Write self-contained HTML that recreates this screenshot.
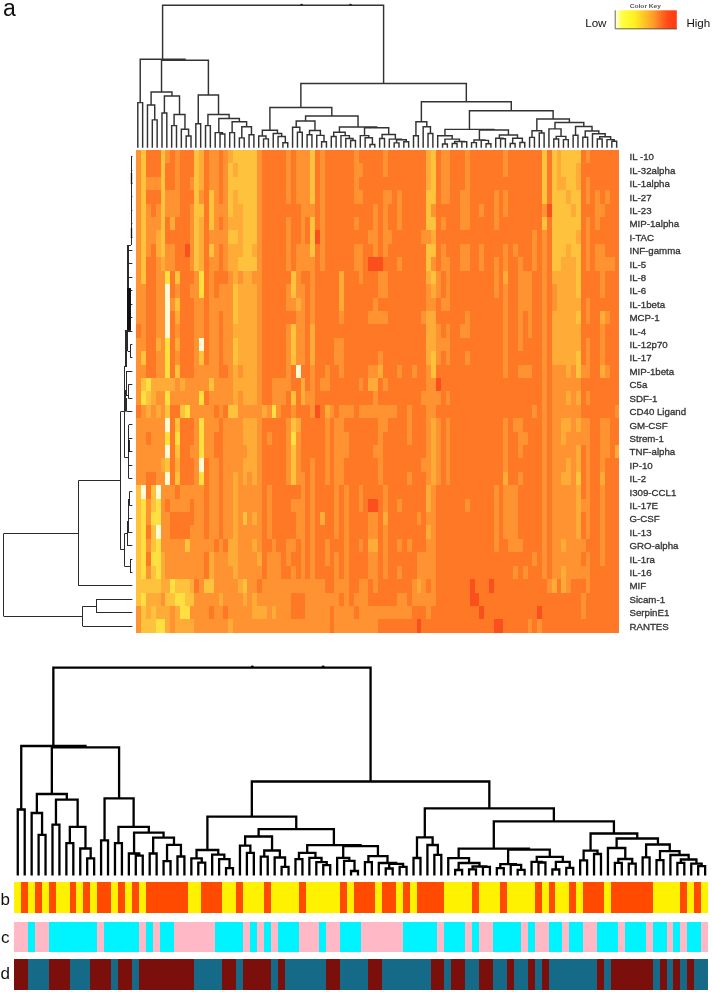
<!DOCTYPE html><html><head><meta charset="utf-8"><title>Heatmap</title><style>
html,body{margin:0;padding:0;background:#fff;}body{width:712px;height:992px;overflow:hidden;}
svg{display:block;}text{font-family:"Liberation Sans",Arial,sans-serif;}
</style></head><body>
<svg width="712" height="992" viewBox="0 0 712 992">
<defs><linearGradient id="ck" x1="0" x2="1" y1="0" y2="0"><stop offset="0" stop-color="#fffff2"/><stop offset="0.05" stop-color="#ffffb0"/><stop offset="0.12" stop-color="#ffff40"/><stop offset="0.32" stop-color="#fff020"/><stop offset="0.46" stop-color="#ffc828"/><stop offset="0.63" stop-color="#ff9a28"/><stop offset="0.76" stop-color="#ff6820"/><stop offset="0.86" stop-color="#ff4818"/><stop offset="1" stop-color="#ff3a12"/></linearGradient></defs>
<rect width="712" height="992" fill="#fff"/>
<text x="3.0" y="15.6" font-size="23" fill="#111">a</text>
<text x="629.7" y="8.3" font-size="5.2" font-weight="bold" fill="#555" textLength="31.3" lengthAdjust="spacingAndGlyphs">Color Key</text>
<rect x="614.8" y="10.3" width="62" height="18.9" fill="url(#ck)"/>
<path d="M615.2 10.3V28.8H676.8" stroke="#555" stroke-width="0.9" fill="none"/>
<text x="585.2" y="27" font-size="11.6" fill="#111">Low</text>
<text x="686.4" y="27" font-size="11.6" fill="#111">High</text>
<g shape-rendering="crispEdges">
<rect x="136.4" y="150" width="5.13" height="174.63" fill="#ff9332"/>
<rect x="136.4" y="324.33" width="5.13" height="13.71" fill="#ff7825"/>
<rect x="136.4" y="337.74" width="5.13" height="67.35" fill="#ff9332"/>
<rect x="136.4" y="404.79" width="5.13" height="13.71" fill="#ff7825"/>
<rect x="136.4" y="418.2" width="5.13" height="67.35" fill="#ff9332"/>
<rect x="136.4" y="485.25" width="5.13" height="120.99" fill="#ffc23c"/>
<rect x="136.4" y="605.94" width="5.13" height="26.82" fill="#ff9332"/>
<rect x="141.23" y="150" width="5.13" height="134.4" fill="#ffc23c"/>
<rect x="141.23" y="284.1" width="5.13" height="67.35" fill="#ff9332"/>
<rect x="141.23" y="351.15" width="5.13" height="13.71" fill="#ffc23c"/>
<rect x="141.23" y="364.56" width="5.13" height="13.71" fill="#ff9332"/>
<rect x="141.23" y="377.97" width="5.13" height="13.71" fill="#ffc23c"/>
<rect x="141.23" y="391.38" width="5.13" height="13.71" fill="#ffe040"/>
<rect x="141.23" y="404.79" width="5.13" height="80.76" fill="#ff9332"/>
<rect x="141.23" y="485.25" width="5.13" height="13.71" fill="#fffbd6"/>
<rect x="141.23" y="498.66" width="5.13" height="80.76" fill="#ffe040"/>
<rect x="141.23" y="579.12" width="5.13" height="13.71" fill="#ffc23c"/>
<rect x="141.23" y="592.53" width="5.13" height="13.71" fill="#ffe040"/>
<rect x="141.23" y="605.94" width="5.13" height="26.82" fill="#ffc23c"/>
<rect x="146.06" y="150" width="5.13" height="27.12" fill="#ff7825"/>
<rect x="146.06" y="176.82" width="5.13" height="13.71" fill="#ff9332"/>
<rect x="146.06" y="190.23" width="5.13" height="13.71" fill="#ff7825"/>
<rect x="146.06" y="203.64" width="5.13" height="53.94" fill="#ff9332"/>
<rect x="146.06" y="257.28" width="5.13" height="120.99" fill="#ff7825"/>
<rect x="146.06" y="377.97" width="5.13" height="13.71" fill="#ffe040"/>
<rect x="146.06" y="391.38" width="5.13" height="13.71" fill="#ffc23c"/>
<rect x="146.06" y="404.79" width="5.13" height="13.71" fill="#ffab37"/>
<rect x="146.06" y="418.2" width="5.13" height="13.71" fill="#ff9332"/>
<rect x="146.06" y="431.61" width="5.13" height="13.71" fill="#ff7825"/>
<rect x="146.06" y="445.02" width="5.13" height="27.12" fill="#ff9332"/>
<rect x="146.06" y="471.84" width="5.13" height="27.12" fill="#ff7825"/>
<rect x="146.06" y="498.66" width="5.13" height="27.12" fill="#ff9332"/>
<rect x="146.06" y="525.48" width="5.13" height="13.71" fill="#ff7825"/>
<rect x="146.06" y="538.89" width="5.13" height="13.71" fill="#ff9332"/>
<rect x="146.06" y="552.3" width="5.13" height="13.71" fill="#ff7825"/>
<rect x="146.06" y="565.71" width="5.13" height="13.71" fill="#ff9332"/>
<rect x="146.06" y="579.12" width="5.13" height="13.71" fill="#ffc23c"/>
<rect x="146.06" y="592.53" width="5.13" height="27.12" fill="#ffab37"/>
<rect x="146.06" y="619.35" width="5.13" height="13.41" fill="#ffc23c"/>
<rect x="150.89" y="150" width="5.13" height="27.12" fill="#ff7825"/>
<rect x="150.89" y="176.82" width="5.13" height="13.71" fill="#ff9332"/>
<rect x="150.89" y="190.23" width="5.13" height="27.12" fill="#ff7825"/>
<rect x="150.89" y="217.05" width="5.13" height="27.12" fill="#ff9332"/>
<rect x="150.89" y="243.87" width="5.13" height="134.4" fill="#ff7825"/>
<rect x="150.89" y="377.97" width="5.13" height="27.12" fill="#ffab37"/>
<rect x="150.89" y="404.79" width="5.13" height="67.35" fill="#ff9332"/>
<rect x="150.89" y="471.84" width="5.13" height="13.71" fill="#ff7825"/>
<rect x="150.89" y="485.25" width="5.13" height="27.12" fill="#ffc23c"/>
<rect x="150.89" y="512.07" width="5.13" height="13.71" fill="#ffe040"/>
<rect x="150.89" y="525.48" width="5.13" height="27.12" fill="#ffc23c"/>
<rect x="150.89" y="552.3" width="5.13" height="13.71" fill="#ffe040"/>
<rect x="150.89" y="565.71" width="5.13" height="27.12" fill="#ffc23c"/>
<rect x="150.89" y="592.53" width="5.13" height="13.71" fill="#ffab37"/>
<rect x="150.89" y="605.94" width="5.13" height="26.82" fill="#ffc23c"/>
<rect x="155.72" y="150" width="5.13" height="27.12" fill="#ff7825"/>
<rect x="155.72" y="176.82" width="5.13" height="13.71" fill="#ff9332"/>
<rect x="155.72" y="190.23" width="5.13" height="13.71" fill="#ff7825"/>
<rect x="155.72" y="203.64" width="5.13" height="27.12" fill="#ff9332"/>
<rect x="155.72" y="230.46" width="5.13" height="27.12" fill="#ffab37"/>
<rect x="155.72" y="257.28" width="5.13" height="80.76" fill="#ff9332"/>
<rect x="155.72" y="337.74" width="5.13" height="13.71" fill="#ffab37"/>
<rect x="155.72" y="351.15" width="5.13" height="27.12" fill="#ff9332"/>
<rect x="155.72" y="377.97" width="5.13" height="13.71" fill="#ffab37"/>
<rect x="155.72" y="391.38" width="5.13" height="13.71" fill="#ff9332"/>
<rect x="155.72" y="404.79" width="5.13" height="13.71" fill="#ffab37"/>
<rect x="155.72" y="418.2" width="5.13" height="67.35" fill="#ff9332"/>
<rect x="155.72" y="485.25" width="5.13" height="13.71" fill="#fffbd6"/>
<rect x="155.72" y="498.66" width="5.13" height="27.12" fill="#ffe040"/>
<rect x="155.72" y="525.48" width="5.13" height="13.71" fill="#fffbd6"/>
<rect x="155.72" y="538.89" width="5.13" height="40.53" fill="#ffe040"/>
<rect x="155.72" y="579.12" width="5.13" height="13.71" fill="#ffc23c"/>
<rect x="155.72" y="592.53" width="5.13" height="27.12" fill="#ffab37"/>
<rect x="155.72" y="619.35" width="5.13" height="13.41" fill="#ffe040"/>
<rect x="160.55" y="150" width="5.13" height="107.58" fill="#ffc23c"/>
<rect x="160.55" y="257.28" width="5.13" height="13.71" fill="#ffab37"/>
<rect x="160.55" y="270.69" width="5.13" height="107.58" fill="#ff9332"/>
<rect x="160.55" y="377.97" width="5.13" height="13.71" fill="#ffab37"/>
<rect x="160.55" y="391.38" width="5.13" height="67.35" fill="#ff9332"/>
<rect x="160.55" y="458.43" width="5.13" height="13.71" fill="#ffab37"/>
<rect x="160.55" y="471.84" width="5.13" height="80.76" fill="#ff9332"/>
<rect x="160.55" y="552.3" width="5.13" height="40.53" fill="#ffab37"/>
<rect x="160.55" y="592.53" width="5.13" height="13.71" fill="#ff9332"/>
<rect x="160.55" y="605.94" width="5.13" height="13.71" fill="#ffab37"/>
<rect x="160.55" y="619.35" width="5.13" height="13.41" fill="#ffe040"/>
<rect x="165.38" y="150" width="5.13" height="13.71" fill="#ff9332"/>
<rect x="165.38" y="163.41" width="5.13" height="27.12" fill="#ff7825"/>
<rect x="165.38" y="190.23" width="5.13" height="27.12" fill="#ff9332"/>
<rect x="165.38" y="217.05" width="5.13" height="27.12" fill="#ff7825"/>
<rect x="165.38" y="243.87" width="5.13" height="27.12" fill="#ff9332"/>
<rect x="165.38" y="270.69" width="5.13" height="13.71" fill="#ffe040"/>
<rect x="165.38" y="284.1" width="5.13" height="53.94" fill="#fffbd6"/>
<rect x="165.38" y="337.74" width="5.13" height="40.53" fill="#ffe040"/>
<rect x="165.38" y="377.97" width="5.13" height="13.71" fill="#ffab37"/>
<rect x="165.38" y="391.38" width="5.13" height="13.71" fill="#ffe040"/>
<rect x="165.38" y="404.79" width="5.13" height="13.71" fill="#ffc23c"/>
<rect x="165.38" y="418.2" width="5.13" height="13.71" fill="#fffbd6"/>
<rect x="165.38" y="431.61" width="5.13" height="13.71" fill="#ffe040"/>
<rect x="165.38" y="445.02" width="5.13" height="13.71" fill="#fffbd6"/>
<rect x="165.38" y="458.43" width="5.13" height="13.71" fill="#ffc23c"/>
<rect x="165.38" y="471.84" width="5.13" height="13.71" fill="#fffbd6"/>
<rect x="165.38" y="485.25" width="5.13" height="13.71" fill="#ff9332"/>
<rect x="165.38" y="498.66" width="5.13" height="13.71" fill="#ff7825"/>
<rect x="165.38" y="512.07" width="5.13" height="67.35" fill="#ff9332"/>
<rect x="165.38" y="579.12" width="5.13" height="13.71" fill="#ffab37"/>
<rect x="165.38" y="592.53" width="5.13" height="13.71" fill="#ffc23c"/>
<rect x="165.38" y="605.94" width="5.13" height="26.82" fill="#ffab37"/>
<rect x="170.21" y="150" width="5.13" height="40.53" fill="#ff7825"/>
<rect x="170.21" y="190.23" width="5.13" height="27.12" fill="#ff9332"/>
<rect x="170.21" y="217.05" width="5.13" height="13.71" fill="#ffab37"/>
<rect x="170.21" y="230.46" width="5.13" height="13.71" fill="#ff7825"/>
<rect x="170.21" y="243.87" width="5.13" height="27.12" fill="#ff9332"/>
<rect x="170.21" y="270.69" width="5.13" height="27.12" fill="#ff7825"/>
<rect x="170.21" y="297.51" width="5.13" height="13.71" fill="#ff9332"/>
<rect x="170.21" y="310.92" width="5.13" height="67.35" fill="#ff7825"/>
<rect x="170.21" y="377.97" width="5.13" height="13.71" fill="#ffab37"/>
<rect x="170.21" y="391.38" width="5.13" height="13.71" fill="#ff9332"/>
<rect x="170.21" y="404.79" width="5.13" height="80.76" fill="#ff7825"/>
<rect x="170.21" y="485.25" width="5.13" height="27.12" fill="#ff9332"/>
<rect x="170.21" y="512.07" width="5.13" height="27.12" fill="#ff7825"/>
<rect x="170.21" y="538.89" width="5.13" height="40.53" fill="#ff9332"/>
<rect x="170.21" y="579.12" width="5.13" height="13.71" fill="#ffe040"/>
<rect x="170.21" y="592.53" width="5.13" height="13.71" fill="#ffc23c"/>
<rect x="170.21" y="605.94" width="5.13" height="26.82" fill="#ff9332"/>
<rect x="175.04" y="150" width="5.13" height="67.35" fill="#ff9332"/>
<rect x="175.04" y="217.05" width="5.13" height="53.94" fill="#ff7825"/>
<rect x="175.04" y="270.69" width="5.13" height="13.71" fill="#ffc23c"/>
<rect x="175.04" y="284.1" width="5.13" height="13.71" fill="#ff9332"/>
<rect x="175.04" y="297.51" width="5.13" height="13.71" fill="#ffc23c"/>
<rect x="175.04" y="310.92" width="5.13" height="13.71" fill="#ffab37"/>
<rect x="175.04" y="324.33" width="5.13" height="13.71" fill="#ff9332"/>
<rect x="175.04" y="337.74" width="5.13" height="13.71" fill="#ffab37"/>
<rect x="175.04" y="351.15" width="5.13" height="13.71" fill="#ff9332"/>
<rect x="175.04" y="364.56" width="5.13" height="13.71" fill="#ffc23c"/>
<rect x="175.04" y="377.97" width="5.13" height="27.12" fill="#ff9332"/>
<rect x="175.04" y="404.79" width="5.13" height="13.71" fill="#ff7825"/>
<rect x="175.04" y="418.2" width="5.13" height="13.71" fill="#ffc23c"/>
<rect x="175.04" y="431.61" width="5.13" height="13.71" fill="#ffe040"/>
<rect x="175.04" y="445.02" width="5.13" height="13.71" fill="#ffc23c"/>
<rect x="175.04" y="458.43" width="5.13" height="13.71" fill="#ffab37"/>
<rect x="175.04" y="471.84" width="5.13" height="13.71" fill="#ffc23c"/>
<rect x="175.04" y="485.25" width="5.13" height="13.71" fill="#ff7825"/>
<rect x="175.04" y="498.66" width="5.13" height="13.71" fill="#ff9332"/>
<rect x="175.04" y="512.07" width="5.13" height="27.12" fill="#ff7825"/>
<rect x="175.04" y="538.89" width="5.13" height="40.53" fill="#ff9332"/>
<rect x="175.04" y="579.12" width="5.13" height="13.71" fill="#ffc23c"/>
<rect x="175.04" y="592.53" width="5.13" height="13.71" fill="#ffe040"/>
<rect x="175.04" y="605.94" width="5.13" height="26.82" fill="#ffab37"/>
<rect x="179.87" y="150" width="5.13" height="228.27" fill="#ff7825"/>
<rect x="179.87" y="377.97" width="5.13" height="13.71" fill="#ffab37"/>
<rect x="179.87" y="391.38" width="5.13" height="13.71" fill="#ff9332"/>
<rect x="179.87" y="404.79" width="5.13" height="13.71" fill="#ffc23c"/>
<rect x="179.87" y="418.2" width="5.13" height="67.35" fill="#ff7825"/>
<rect x="179.87" y="485.25" width="5.13" height="27.12" fill="#ff9332"/>
<rect x="179.87" y="512.07" width="5.13" height="27.12" fill="#ff7825"/>
<rect x="179.87" y="538.89" width="5.13" height="40.53" fill="#ff9332"/>
<rect x="179.87" y="579.12" width="5.13" height="13.71" fill="#ffc23c"/>
<rect x="179.87" y="592.53" width="5.13" height="27.12" fill="#ffe040"/>
<rect x="179.87" y="619.35" width="5.13" height="13.41" fill="#ffab37"/>
<rect x="184.7" y="150" width="5.13" height="94.17" fill="#ff7825"/>
<rect x="184.7" y="243.87" width="5.13" height="13.71" fill="#fb4f1e"/>
<rect x="184.7" y="257.28" width="5.13" height="120.99" fill="#ff7825"/>
<rect x="184.7" y="377.97" width="5.13" height="27.12" fill="#ff9332"/>
<rect x="184.7" y="404.79" width="5.13" height="13.71" fill="#ffe040"/>
<rect x="184.7" y="418.2" width="5.13" height="67.35" fill="#ff7825"/>
<rect x="184.7" y="485.25" width="5.13" height="27.12" fill="#ff9332"/>
<rect x="184.7" y="512.07" width="5.13" height="27.12" fill="#ff7825"/>
<rect x="184.7" y="538.89" width="5.13" height="13.71" fill="#ffc23c"/>
<rect x="184.7" y="552.3" width="5.13" height="27.12" fill="#ff9332"/>
<rect x="184.7" y="579.12" width="5.13" height="27.12" fill="#ffc23c"/>
<rect x="184.7" y="605.94" width="5.13" height="13.71" fill="#ffe040"/>
<rect x="184.7" y="619.35" width="5.13" height="13.41" fill="#ffab37"/>
<rect x="189.53" y="150" width="5.13" height="27.12" fill="#ff7825"/>
<rect x="189.53" y="176.82" width="5.13" height="13.71" fill="#ff9332"/>
<rect x="189.53" y="190.23" width="5.13" height="13.71" fill="#ff7825"/>
<rect x="189.53" y="203.64" width="5.13" height="67.35" fill="#ff9332"/>
<rect x="189.53" y="270.69" width="5.13" height="13.71" fill="#ff7825"/>
<rect x="189.53" y="284.1" width="5.13" height="13.71" fill="#ff9332"/>
<rect x="189.53" y="297.51" width="5.13" height="80.76" fill="#ff7825"/>
<rect x="189.53" y="377.97" width="5.13" height="40.53" fill="#ff9332"/>
<rect x="189.53" y="418.2" width="5.13" height="27.12" fill="#ff7825"/>
<rect x="189.53" y="445.02" width="5.13" height="13.71" fill="#ff9332"/>
<rect x="189.53" y="458.43" width="5.13" height="27.12" fill="#ff7825"/>
<rect x="189.53" y="485.25" width="5.13" height="13.71" fill="#ff9332"/>
<rect x="189.53" y="498.66" width="5.13" height="27.12" fill="#ff7825"/>
<rect x="189.53" y="525.48" width="5.13" height="53.94" fill="#ff9332"/>
<rect x="189.53" y="579.12" width="5.13" height="13.71" fill="#ffab37"/>
<rect x="189.53" y="592.53" width="5.13" height="13.71" fill="#ffc23c"/>
<rect x="189.53" y="605.94" width="5.13" height="13.71" fill="#ff9332"/>
<rect x="189.53" y="619.35" width="5.13" height="13.41" fill="#ffab37"/>
<rect x="194.36" y="150" width="5.13" height="120.99" fill="#ffc23c"/>
<rect x="194.36" y="270.69" width="5.13" height="308.73" fill="#ff9332"/>
<rect x="194.36" y="579.12" width="5.13" height="13.71" fill="#ff7825"/>
<rect x="194.36" y="592.53" width="5.13" height="40.23" fill="#ff9332"/>
<rect x="199.19" y="150" width="5.13" height="40.53" fill="#ffab37"/>
<rect x="199.19" y="190.23" width="5.13" height="13.71" fill="#ff9332"/>
<rect x="199.19" y="203.64" width="5.13" height="13.71" fill="#ffc23c"/>
<rect x="199.19" y="217.05" width="5.13" height="53.94" fill="#ffab37"/>
<rect x="199.19" y="270.69" width="5.13" height="27.12" fill="#ffe040"/>
<rect x="199.19" y="297.51" width="5.13" height="40.53" fill="#ff9332"/>
<rect x="199.19" y="337.74" width="5.13" height="13.71" fill="#fffbd6"/>
<rect x="199.19" y="351.15" width="5.13" height="13.71" fill="#ffc23c"/>
<rect x="199.19" y="364.56" width="5.13" height="27.12" fill="#ff9332"/>
<rect x="199.19" y="391.38" width="5.13" height="13.71" fill="#ffe040"/>
<rect x="199.19" y="404.79" width="5.13" height="13.71" fill="#ff9332"/>
<rect x="199.19" y="418.2" width="5.13" height="40.53" fill="#ffe040"/>
<rect x="199.19" y="458.43" width="5.13" height="13.71" fill="#fffbd6"/>
<rect x="199.19" y="471.84" width="5.13" height="13.71" fill="#ffe040"/>
<rect x="199.19" y="485.25" width="5.13" height="147.51" fill="#ff9332"/>
<rect x="204.02" y="150" width="5.13" height="214.86" fill="#ff7825"/>
<rect x="204.02" y="364.56" width="5.13" height="27.12" fill="#ff9332"/>
<rect x="204.02" y="391.38" width="5.13" height="13.71" fill="#ff7825"/>
<rect x="204.02" y="404.79" width="5.13" height="53.94" fill="#ff9332"/>
<rect x="204.02" y="458.43" width="5.13" height="80.76" fill="#ff7825"/>
<rect x="204.02" y="538.89" width="5.13" height="13.71" fill="#ff9332"/>
<rect x="204.02" y="552.3" width="5.13" height="27.12" fill="#ff7825"/>
<rect x="204.02" y="579.12" width="5.13" height="13.71" fill="#ffc23c"/>
<rect x="204.02" y="592.53" width="5.13" height="40.23" fill="#ff9332"/>
<rect x="208.85" y="150" width="5.13" height="40.53" fill="#ff9332"/>
<rect x="208.85" y="190.23" width="5.13" height="40.53" fill="#ffc23c"/>
<rect x="208.85" y="230.46" width="5.13" height="13.71" fill="#ff9332"/>
<rect x="208.85" y="243.87" width="5.13" height="13.71" fill="#ffc23c"/>
<rect x="208.85" y="257.28" width="5.13" height="120.99" fill="#ff9332"/>
<rect x="208.85" y="377.97" width="5.13" height="13.71" fill="#ffc23c"/>
<rect x="208.85" y="391.38" width="5.13" height="161.22" fill="#ff9332"/>
<rect x="208.85" y="552.3" width="5.13" height="27.12" fill="#ffab37"/>
<rect x="208.85" y="579.12" width="5.13" height="13.71" fill="#ffc23c"/>
<rect x="208.85" y="592.53" width="5.13" height="13.71" fill="#ff9332"/>
<rect x="208.85" y="605.94" width="5.13" height="13.71" fill="#ff7825"/>
<rect x="208.85" y="619.35" width="5.13" height="13.41" fill="#ff9332"/>
<rect x="213.68" y="150" width="5.13" height="120.99" fill="#ff9332"/>
<rect x="213.68" y="270.69" width="5.13" height="27.12" fill="#ff7825"/>
<rect x="213.68" y="297.51" width="5.13" height="107.58" fill="#ff9332"/>
<rect x="213.68" y="404.79" width="5.13" height="13.71" fill="#ff7825"/>
<rect x="213.68" y="418.2" width="5.13" height="13.71" fill="#ff9332"/>
<rect x="213.68" y="431.61" width="5.13" height="27.12" fill="#ff7825"/>
<rect x="213.68" y="458.43" width="5.13" height="80.76" fill="#ff9332"/>
<rect x="213.68" y="538.89" width="5.13" height="13.71" fill="#ff7825"/>
<rect x="213.68" y="552.3" width="5.13" height="80.46" fill="#ff9332"/>
<rect x="218.51" y="150" width="5.13" height="53.94" fill="#ff7825"/>
<rect x="218.51" y="203.64" width="5.13" height="13.71" fill="#ff9332"/>
<rect x="218.51" y="217.05" width="5.13" height="13.71" fill="#ff7825"/>
<rect x="218.51" y="230.46" width="5.13" height="13.71" fill="#ff9332"/>
<rect x="218.51" y="243.87" width="5.13" height="40.53" fill="#ff7825"/>
<rect x="218.51" y="284.1" width="5.13" height="27.12" fill="#ff9332"/>
<rect x="218.51" y="310.92" width="5.13" height="67.35" fill="#ff7825"/>
<rect x="218.51" y="377.97" width="5.13" height="40.53" fill="#ff9332"/>
<rect x="218.51" y="418.2" width="5.13" height="120.99" fill="#ff7825"/>
<rect x="218.51" y="538.89" width="5.13" height="53.94" fill="#ff9332"/>
<rect x="218.51" y="592.53" width="5.13" height="13.71" fill="#ffab37"/>
<rect x="218.51" y="605.94" width="5.13" height="26.82" fill="#ff9332"/>
<rect x="223.34" y="150" width="5.13" height="120.99" fill="#ff9332"/>
<rect x="223.34" y="270.69" width="5.13" height="13.71" fill="#ff7825"/>
<rect x="223.34" y="284.1" width="5.13" height="80.76" fill="#ff9332"/>
<rect x="223.34" y="364.56" width="5.13" height="13.71" fill="#ff7825"/>
<rect x="223.34" y="377.97" width="5.13" height="27.12" fill="#ff9332"/>
<rect x="223.34" y="404.79" width="5.13" height="13.71" fill="#ff7825"/>
<rect x="223.34" y="418.2" width="5.13" height="120.99" fill="#ff9332"/>
<rect x="223.34" y="538.89" width="5.13" height="13.71" fill="#ff7825"/>
<rect x="223.34" y="552.3" width="5.13" height="53.94" fill="#ff9332"/>
<rect x="223.34" y="605.94" width="5.13" height="13.71" fill="#ff7825"/>
<rect x="223.34" y="619.35" width="5.13" height="13.41" fill="#ff9332"/>
<rect x="228.17" y="150" width="5.13" height="13.71" fill="#ffab37"/>
<rect x="228.17" y="163.41" width="5.13" height="53.94" fill="#ffc23c"/>
<rect x="228.17" y="217.05" width="5.13" height="13.71" fill="#ffab37"/>
<rect x="228.17" y="230.46" width="5.13" height="13.71" fill="#ffc23c"/>
<rect x="228.17" y="243.87" width="5.13" height="27.12" fill="#ffab37"/>
<rect x="228.17" y="270.69" width="5.13" height="134.4" fill="#ff9332"/>
<rect x="228.17" y="404.79" width="5.13" height="13.71" fill="#ffc23c"/>
<rect x="228.17" y="418.2" width="5.13" height="120.99" fill="#ff9332"/>
<rect x="228.17" y="538.89" width="5.13" height="27.12" fill="#ffab37"/>
<rect x="228.17" y="565.71" width="5.13" height="53.94" fill="#ff9332"/>
<rect x="228.17" y="619.35" width="5.13" height="13.41" fill="#ffab37"/>
<rect x="233" y="150" width="5.13" height="13.71" fill="#ffc23c"/>
<rect x="233" y="163.41" width="5.13" height="13.71" fill="#ffab37"/>
<rect x="233" y="176.82" width="5.13" height="13.71" fill="#ffc23c"/>
<rect x="233" y="190.23" width="5.13" height="40.53" fill="#ffab37"/>
<rect x="233" y="230.46" width="5.13" height="13.71" fill="#ffc23c"/>
<rect x="233" y="243.87" width="5.13" height="40.53" fill="#ffab37"/>
<rect x="233" y="284.1" width="5.13" height="40.53" fill="#ffc23c"/>
<rect x="233" y="324.33" width="5.13" height="13.71" fill="#ffab37"/>
<rect x="233" y="337.74" width="5.13" height="27.12" fill="#ffc23c"/>
<rect x="233" y="364.56" width="5.13" height="40.53" fill="#ffab37"/>
<rect x="233" y="404.79" width="5.13" height="13.71" fill="#ffc23c"/>
<rect x="233" y="418.2" width="5.13" height="53.94" fill="#ff9332"/>
<rect x="233" y="471.84" width="5.13" height="107.58" fill="#ffab37"/>
<rect x="233" y="579.12" width="5.13" height="53.64" fill="#ff9332"/>
<rect x="237.83" y="150" width="5.13" height="53.94" fill="#ffc23c"/>
<rect x="237.83" y="203.64" width="5.13" height="53.94" fill="#ffab37"/>
<rect x="237.83" y="257.28" width="5.13" height="13.71" fill="#ffc23c"/>
<rect x="237.83" y="270.69" width="5.13" height="13.71" fill="#ff9332"/>
<rect x="237.83" y="284.1" width="5.13" height="80.76" fill="#ffab37"/>
<rect x="237.83" y="364.56" width="5.13" height="13.71" fill="#ff9332"/>
<rect x="237.83" y="377.97" width="5.13" height="13.71" fill="#ffab37"/>
<rect x="237.83" y="391.38" width="5.13" height="188.04" fill="#ff9332"/>
<rect x="237.83" y="579.12" width="5.13" height="13.71" fill="#ffab37"/>
<rect x="237.83" y="592.53" width="5.13" height="40.23" fill="#ff9332"/>
<rect x="242.66" y="150" width="5.13" height="120.99" fill="#ffc23c"/>
<rect x="242.66" y="270.69" width="5.13" height="134.4" fill="#ffab37"/>
<rect x="242.66" y="404.79" width="5.13" height="13.71" fill="#ff9332"/>
<rect x="242.66" y="418.2" width="5.13" height="27.12" fill="#ffab37"/>
<rect x="242.66" y="445.02" width="5.13" height="13.71" fill="#ff9332"/>
<rect x="242.66" y="458.43" width="5.13" height="27.12" fill="#ffab37"/>
<rect x="242.66" y="485.25" width="5.13" height="27.12" fill="#ff9332"/>
<rect x="242.66" y="512.07" width="5.13" height="13.71" fill="#ffc23c"/>
<rect x="242.66" y="525.48" width="5.13" height="53.94" fill="#ff9332"/>
<rect x="242.66" y="579.12" width="5.13" height="13.71" fill="#ffc23c"/>
<rect x="242.66" y="592.53" width="5.13" height="13.71" fill="#ffab37"/>
<rect x="242.66" y="605.94" width="5.13" height="26.82" fill="#ff9332"/>
<rect x="247.49" y="150" width="5.13" height="120.99" fill="#ffc23c"/>
<rect x="247.49" y="270.69" width="5.13" height="134.4" fill="#ffab37"/>
<rect x="247.49" y="404.79" width="5.13" height="13.71" fill="#ff9332"/>
<rect x="247.49" y="418.2" width="5.13" height="53.94" fill="#ffab37"/>
<rect x="247.49" y="471.84" width="5.13" height="160.92" fill="#ff9332"/>
<rect x="252.32" y="150" width="5.13" height="94.17" fill="#ffc23c"/>
<rect x="252.32" y="243.87" width="5.13" height="13.71" fill="#ffab37"/>
<rect x="252.32" y="257.28" width="5.13" height="13.71" fill="#ffc23c"/>
<rect x="252.32" y="270.69" width="5.13" height="13.71" fill="#ff9332"/>
<rect x="252.32" y="284.1" width="5.13" height="120.99" fill="#ffab37"/>
<rect x="252.32" y="404.79" width="5.13" height="13.71" fill="#ff9332"/>
<rect x="252.32" y="418.2" width="5.13" height="67.35" fill="#ffab37"/>
<rect x="252.32" y="485.25" width="5.13" height="27.12" fill="#ff9332"/>
<rect x="252.32" y="512.07" width="5.13" height="13.71" fill="#ffab37"/>
<rect x="252.32" y="525.48" width="5.13" height="13.71" fill="#ff9332"/>
<rect x="252.32" y="538.89" width="5.13" height="13.71" fill="#ffab37"/>
<rect x="252.32" y="552.3" width="5.13" height="40.53" fill="#ff9332"/>
<rect x="252.32" y="592.53" width="5.13" height="27.12" fill="#ffab37"/>
<rect x="252.32" y="619.35" width="5.13" height="13.41" fill="#ff9332"/>
<rect x="257.15" y="150" width="5.13" height="402.6" fill="#ff9332"/>
<rect x="257.15" y="552.3" width="5.13" height="13.71" fill="#ffab37"/>
<rect x="257.15" y="565.71" width="5.13" height="13.71" fill="#ff9332"/>
<rect x="257.15" y="579.12" width="5.13" height="13.71" fill="#ff7825"/>
<rect x="257.15" y="592.53" width="5.13" height="13.71" fill="#ff9332"/>
<rect x="257.15" y="605.94" width="5.13" height="13.71" fill="#ffab37"/>
<rect x="257.15" y="619.35" width="5.13" height="13.41" fill="#ff9332"/>
<rect x="261.98" y="150" width="5.13" height="255.09" fill="#ff7825"/>
<rect x="261.98" y="404.79" width="5.13" height="13.71" fill="#ffab37"/>
<rect x="261.98" y="418.2" width="5.13" height="161.22" fill="#ff7825"/>
<rect x="261.98" y="579.12" width="5.13" height="27.12" fill="#ff9332"/>
<rect x="261.98" y="605.94" width="5.13" height="13.71" fill="#ffab37"/>
<rect x="261.98" y="619.35" width="5.13" height="13.41" fill="#ff9332"/>
<rect x="266.81" y="150" width="5.13" height="255.09" fill="#ff7825"/>
<rect x="266.81" y="404.79" width="5.13" height="13.71" fill="#ff9332"/>
<rect x="266.81" y="418.2" width="5.13" height="13.71" fill="#ff7825"/>
<rect x="266.81" y="431.61" width="5.13" height="13.71" fill="#ff9332"/>
<rect x="266.81" y="445.02" width="5.13" height="40.53" fill="#ff7825"/>
<rect x="266.81" y="485.25" width="5.13" height="53.94" fill="#ff9332"/>
<rect x="266.81" y="538.89" width="5.13" height="13.71" fill="#ff7825"/>
<rect x="266.81" y="552.3" width="5.13" height="80.46" fill="#ff9332"/>
<rect x="271.64" y="150" width="5.13" height="228.27" fill="#ff7825"/>
<rect x="271.64" y="377.97" width="5.13" height="27.12" fill="#ff9332"/>
<rect x="271.64" y="404.79" width="5.13" height="13.71" fill="#ffe040"/>
<rect x="271.64" y="418.2" width="5.13" height="120.99" fill="#ff7825"/>
<rect x="271.64" y="538.89" width="5.13" height="67.35" fill="#ff9332"/>
<rect x="271.64" y="605.94" width="5.13" height="13.71" fill="#ffab37"/>
<rect x="271.64" y="619.35" width="5.13" height="13.41" fill="#ff9332"/>
<rect x="276.47" y="150" width="5.13" height="228.27" fill="#ff7825"/>
<rect x="276.47" y="377.97" width="5.13" height="40.53" fill="#ff9332"/>
<rect x="276.47" y="418.2" width="5.13" height="134.4" fill="#ff7825"/>
<rect x="276.47" y="552.3" width="5.13" height="80.46" fill="#ff9332"/>
<rect x="281.3" y="150" width="5.13" height="228.27" fill="#ff7825"/>
<rect x="281.3" y="377.97" width="5.13" height="27.12" fill="#ff9332"/>
<rect x="281.3" y="404.79" width="5.13" height="174.63" fill="#ff7825"/>
<rect x="281.3" y="579.12" width="5.13" height="53.64" fill="#ff9332"/>
<rect x="286.13" y="150" width="5.13" height="53.94" fill="#ff9332"/>
<rect x="286.13" y="203.64" width="5.13" height="13.71" fill="#ff7825"/>
<rect x="286.13" y="217.05" width="5.13" height="53.94" fill="#ff9332"/>
<rect x="286.13" y="270.69" width="5.13" height="13.71" fill="#ff7825"/>
<rect x="286.13" y="284.1" width="5.13" height="27.12" fill="#ff9332"/>
<rect x="286.13" y="310.92" width="5.13" height="13.71" fill="#ff7825"/>
<rect x="286.13" y="324.33" width="5.13" height="67.35" fill="#ff9332"/>
<rect x="286.13" y="391.38" width="5.13" height="27.12" fill="#ff7825"/>
<rect x="286.13" y="418.2" width="5.13" height="67.35" fill="#ff9332"/>
<rect x="286.13" y="485.25" width="5.13" height="53.94" fill="#ff7825"/>
<rect x="286.13" y="538.89" width="5.13" height="27.12" fill="#ff9332"/>
<rect x="286.13" y="565.71" width="5.13" height="13.71" fill="#ff7825"/>
<rect x="286.13" y="579.12" width="5.13" height="53.64" fill="#ff9332"/>
<rect x="290.96" y="150" width="5.13" height="120.99" fill="#ff7825"/>
<rect x="290.96" y="270.69" width="5.13" height="27.12" fill="#ffc23c"/>
<rect x="290.96" y="297.51" width="5.13" height="13.71" fill="#ff9332"/>
<rect x="290.96" y="310.92" width="5.13" height="13.71" fill="#ff7825"/>
<rect x="290.96" y="324.33" width="5.13" height="40.53" fill="#ffc23c"/>
<rect x="290.96" y="364.56" width="5.13" height="27.12" fill="#ff7825"/>
<rect x="290.96" y="391.38" width="5.13" height="13.71" fill="#ffc23c"/>
<rect x="290.96" y="404.79" width="5.13" height="13.71" fill="#ff9332"/>
<rect x="290.96" y="418.2" width="5.13" height="13.71" fill="#ffc23c"/>
<rect x="290.96" y="431.61" width="5.13" height="13.71" fill="#ffe040"/>
<rect x="290.96" y="445.02" width="5.13" height="40.53" fill="#ffc23c"/>
<rect x="290.96" y="485.25" width="5.13" height="13.71" fill="#ff7825"/>
<rect x="290.96" y="498.66" width="5.13" height="13.71" fill="#ff9332"/>
<rect x="290.96" y="512.07" width="5.13" height="27.12" fill="#ff7825"/>
<rect x="290.96" y="538.89" width="5.13" height="13.71" fill="#ff9332"/>
<rect x="290.96" y="552.3" width="5.13" height="13.71" fill="#ff7825"/>
<rect x="290.96" y="565.71" width="5.13" height="27.12" fill="#ff9332"/>
<rect x="290.96" y="592.53" width="5.13" height="27.12" fill="#ff7825"/>
<rect x="290.96" y="619.35" width="5.13" height="13.41" fill="#ff9332"/>
<rect x="295.79" y="150" width="5.13" height="53.94" fill="#ff9332"/>
<rect x="295.79" y="203.64" width="5.13" height="40.53" fill="#ff7825"/>
<rect x="295.79" y="243.87" width="5.13" height="53.94" fill="#ff9332"/>
<rect x="295.79" y="297.51" width="5.13" height="13.71" fill="#ffab37"/>
<rect x="295.79" y="310.92" width="5.13" height="53.94" fill="#ff9332"/>
<rect x="295.79" y="364.56" width="5.13" height="13.71" fill="#fffbd6"/>
<rect x="295.79" y="377.97" width="5.13" height="40.53" fill="#ff7825"/>
<rect x="295.79" y="418.2" width="5.13" height="13.71" fill="#ffab37"/>
<rect x="295.79" y="431.61" width="5.13" height="53.94" fill="#ff9332"/>
<rect x="295.79" y="485.25" width="5.13" height="13.71" fill="#ff7825"/>
<rect x="295.79" y="498.66" width="5.13" height="40.53" fill="#ff9332"/>
<rect x="295.79" y="538.89" width="5.13" height="40.53" fill="#ff7825"/>
<rect x="295.79" y="579.12" width="5.13" height="13.71" fill="#ff9332"/>
<rect x="295.79" y="592.53" width="5.13" height="27.12" fill="#ff7825"/>
<rect x="295.79" y="619.35" width="5.13" height="13.41" fill="#ff9332"/>
<rect x="300.62" y="150" width="5.13" height="120.99" fill="#ff9332"/>
<rect x="300.62" y="270.69" width="5.13" height="13.71" fill="#ff7825"/>
<rect x="300.62" y="284.1" width="5.13" height="80.76" fill="#ff9332"/>
<rect x="300.62" y="364.56" width="5.13" height="13.71" fill="#ff7825"/>
<rect x="300.62" y="377.97" width="5.13" height="27.12" fill="#ffab37"/>
<rect x="300.62" y="404.79" width="5.13" height="67.35" fill="#ff7825"/>
<rect x="300.62" y="471.84" width="5.13" height="120.99" fill="#ff9332"/>
<rect x="300.62" y="592.53" width="5.13" height="27.12" fill="#ff7825"/>
<rect x="300.62" y="619.35" width="5.13" height="13.41" fill="#ff9332"/>
<rect x="305.45" y="150" width="5.13" height="67.35" fill="#ff9332"/>
<rect x="305.45" y="217.05" width="5.13" height="27.12" fill="#ff7825"/>
<rect x="305.45" y="243.87" width="5.13" height="27.12" fill="#ff9332"/>
<rect x="305.45" y="270.69" width="5.13" height="120.99" fill="#ff7825"/>
<rect x="305.45" y="391.38" width="5.13" height="13.71" fill="#ff9332"/>
<rect x="305.45" y="404.79" width="5.13" height="174.63" fill="#ff7825"/>
<rect x="305.45" y="579.12" width="5.13" height="53.64" fill="#ff9332"/>
<rect x="310.28" y="150" width="5.13" height="53.94" fill="#ffc23c"/>
<rect x="310.28" y="203.64" width="5.13" height="13.71" fill="#ff9332"/>
<rect x="310.28" y="217.05" width="5.13" height="40.53" fill="#ffc23c"/>
<rect x="310.28" y="257.28" width="5.13" height="67.35" fill="#ff9332"/>
<rect x="310.28" y="324.33" width="5.13" height="40.53" fill="#ffab37"/>
<rect x="310.28" y="364.56" width="5.13" height="53.94" fill="#ff9332"/>
<rect x="310.28" y="418.2" width="5.13" height="40.53" fill="#ff7825"/>
<rect x="310.28" y="458.43" width="5.13" height="174.33" fill="#ff9332"/>
<rect x="315.11" y="150" width="5.13" height="80.76" fill="#ff7825"/>
<rect x="315.11" y="230.46" width="5.13" height="13.71" fill="#fb4f1e"/>
<rect x="315.11" y="243.87" width="5.13" height="161.22" fill="#ff7825"/>
<rect x="315.11" y="404.79" width="5.13" height="13.71" fill="#fb4f1e"/>
<rect x="315.11" y="418.2" width="5.13" height="161.22" fill="#ff7825"/>
<rect x="315.11" y="579.12" width="5.13" height="53.64" fill="#ff9332"/>
<rect x="319.94" y="150" width="5.13" height="120.99" fill="#ff9332"/>
<rect x="319.94" y="270.69" width="5.13" height="107.58" fill="#ff7825"/>
<rect x="319.94" y="377.97" width="5.13" height="13.71" fill="#ff9332"/>
<rect x="319.94" y="391.38" width="5.13" height="120.99" fill="#ff7825"/>
<rect x="319.94" y="512.07" width="5.13" height="13.71" fill="#ffab37"/>
<rect x="319.94" y="525.48" width="5.13" height="53.94" fill="#ff7825"/>
<rect x="319.94" y="579.12" width="5.13" height="53.64" fill="#ff9332"/>
<rect x="324.77" y="150" width="5.13" height="214.86" fill="#ff7825"/>
<rect x="324.77" y="364.56" width="5.13" height="27.12" fill="#ff9332"/>
<rect x="324.77" y="391.38" width="5.13" height="13.71" fill="#ff7825"/>
<rect x="324.77" y="404.79" width="5.13" height="13.71" fill="#ffab37"/>
<rect x="324.77" y="418.2" width="5.13" height="67.35" fill="#ff9332"/>
<rect x="324.77" y="485.25" width="5.13" height="53.94" fill="#ff7825"/>
<rect x="324.77" y="538.89" width="5.13" height="27.12" fill="#ff9332"/>
<rect x="324.77" y="565.71" width="5.13" height="27.12" fill="#ff7825"/>
<rect x="324.77" y="592.53" width="5.13" height="40.23" fill="#ff9332"/>
<rect x="329.6" y="150" width="5.13" height="255.09" fill="#ff7825"/>
<rect x="329.6" y="404.79" width="5.13" height="13.71" fill="#ff9332"/>
<rect x="329.6" y="418.2" width="5.13" height="174.63" fill="#ff7825"/>
<rect x="329.6" y="592.53" width="5.13" height="13.71" fill="#ff9332"/>
<rect x="329.6" y="605.94" width="5.13" height="26.82" fill="#ff7825"/>
<rect x="334.43" y="150" width="5.13" height="188.04" fill="#ff7825"/>
<rect x="334.43" y="337.74" width="5.13" height="27.12" fill="#ff9332"/>
<rect x="334.43" y="364.56" width="5.13" height="53.94" fill="#ff7825"/>
<rect x="334.43" y="418.2" width="5.13" height="120.99" fill="#ff9332"/>
<rect x="334.43" y="538.89" width="5.13" height="13.71" fill="#ff7825"/>
<rect x="334.43" y="552.3" width="5.13" height="80.46" fill="#ff9332"/>
<rect x="339.26" y="150" width="5.13" height="120.99" fill="#ff7825"/>
<rect x="339.26" y="270.69" width="5.13" height="40.53" fill="#ffab37"/>
<rect x="339.26" y="310.92" width="5.13" height="13.71" fill="#ff9332"/>
<rect x="339.26" y="324.33" width="5.13" height="13.71" fill="#ff7825"/>
<rect x="339.26" y="337.74" width="5.13" height="40.53" fill="#ff9332"/>
<rect x="339.26" y="377.97" width="5.13" height="27.12" fill="#ff7825"/>
<rect x="339.26" y="404.79" width="5.13" height="80.76" fill="#ff9332"/>
<rect x="339.26" y="485.25" width="5.13" height="94.17" fill="#ff7825"/>
<rect x="339.26" y="579.12" width="5.13" height="13.71" fill="#ff9332"/>
<rect x="339.26" y="592.53" width="5.13" height="13.71" fill="#ff7825"/>
<rect x="339.26" y="605.94" width="5.13" height="26.82" fill="#ff9332"/>
<rect x="344.09" y="150" width="5.13" height="255.09" fill="#ff7825"/>
<rect x="344.09" y="404.79" width="5.13" height="13.71" fill="#ff9332"/>
<rect x="344.09" y="418.2" width="5.13" height="13.71" fill="#ff7825"/>
<rect x="344.09" y="431.61" width="5.13" height="27.12" fill="#ff9332"/>
<rect x="344.09" y="458.43" width="5.13" height="27.12" fill="#ff7825"/>
<rect x="344.09" y="485.25" width="5.13" height="147.51" fill="#ff9332"/>
<rect x="348.92" y="150" width="5.13" height="255.09" fill="#ff7825"/>
<rect x="348.92" y="404.79" width="5.13" height="13.71" fill="#ff9332"/>
<rect x="348.92" y="418.2" width="5.13" height="188.04" fill="#ff7825"/>
<rect x="348.92" y="605.94" width="5.13" height="26.82" fill="#ff9332"/>
<rect x="353.75" y="150" width="5.13" height="53.94" fill="#ff9332"/>
<rect x="353.75" y="203.64" width="5.13" height="13.71" fill="#ff7825"/>
<rect x="353.75" y="217.05" width="5.13" height="13.71" fill="#ff9332"/>
<rect x="353.75" y="230.46" width="5.13" height="13.71" fill="#ff7825"/>
<rect x="353.75" y="243.87" width="5.13" height="27.12" fill="#ff9332"/>
<rect x="353.75" y="270.69" width="5.13" height="322.14" fill="#ff7825"/>
<rect x="353.75" y="592.53" width="5.13" height="13.71" fill="#ff9332"/>
<rect x="353.75" y="605.94" width="5.13" height="13.71" fill="#ff7825"/>
<rect x="353.75" y="619.35" width="5.13" height="13.41" fill="#ff9332"/>
<rect x="358.58" y="150" width="5.13" height="13.71" fill="#ff7825"/>
<rect x="358.58" y="163.41" width="5.13" height="13.71" fill="#ff9332"/>
<rect x="358.58" y="176.82" width="5.13" height="13.71" fill="#ff7825"/>
<rect x="358.58" y="190.23" width="5.13" height="13.71" fill="#ff9332"/>
<rect x="358.58" y="203.64" width="5.13" height="40.53" fill="#ff7825"/>
<rect x="358.58" y="243.87" width="5.13" height="40.53" fill="#ff9332"/>
<rect x="358.58" y="284.1" width="5.13" height="94.17" fill="#ff7825"/>
<rect x="358.58" y="377.97" width="5.13" height="13.71" fill="#ff9332"/>
<rect x="358.58" y="391.38" width="5.13" height="13.71" fill="#ff7825"/>
<rect x="358.58" y="404.79" width="5.13" height="13.71" fill="#ff9332"/>
<rect x="358.58" y="418.2" width="5.13" height="67.35" fill="#ff7825"/>
<rect x="358.58" y="485.25" width="5.13" height="27.12" fill="#ff9332"/>
<rect x="358.58" y="512.07" width="5.13" height="27.12" fill="#ff7825"/>
<rect x="358.58" y="538.89" width="5.13" height="13.71" fill="#ff9332"/>
<rect x="358.58" y="552.3" width="5.13" height="27.12" fill="#ff7825"/>
<rect x="358.58" y="579.12" width="5.13" height="53.64" fill="#ff9332"/>
<rect x="363.41" y="150" width="5.13" height="255.09" fill="#ff7825"/>
<rect x="363.41" y="404.79" width="5.13" height="13.71" fill="#ff9332"/>
<rect x="363.41" y="418.2" width="5.13" height="161.22" fill="#ff7825"/>
<rect x="363.41" y="579.12" width="5.13" height="53.64" fill="#ff9332"/>
<rect x="368.24" y="150" width="5.13" height="80.76" fill="#ff7825"/>
<rect x="368.24" y="230.46" width="5.13" height="13.71" fill="#ff9332"/>
<rect x="368.24" y="243.87" width="5.13" height="13.71" fill="#ff7825"/>
<rect x="368.24" y="257.28" width="5.13" height="13.71" fill="#fb4f1e"/>
<rect x="368.24" y="270.69" width="5.13" height="40.53" fill="#ff7825"/>
<rect x="368.24" y="310.92" width="5.13" height="13.71" fill="#ff9332"/>
<rect x="368.24" y="324.33" width="5.13" height="40.53" fill="#ff7825"/>
<rect x="368.24" y="364.56" width="5.13" height="13.71" fill="#ff9332"/>
<rect x="368.24" y="377.97" width="5.13" height="13.71" fill="#ffab37"/>
<rect x="368.24" y="391.38" width="5.13" height="13.71" fill="#ff7825"/>
<rect x="368.24" y="404.79" width="5.13" height="13.71" fill="#ff9332"/>
<rect x="368.24" y="418.2" width="5.13" height="80.76" fill="#ff7825"/>
<rect x="368.24" y="498.66" width="5.13" height="13.71" fill="#fb4f1e"/>
<rect x="368.24" y="512.07" width="5.13" height="27.12" fill="#ff9332"/>
<rect x="368.24" y="538.89" width="5.13" height="13.71" fill="#ffab37"/>
<rect x="368.24" y="552.3" width="5.13" height="27.12" fill="#ff9332"/>
<rect x="368.24" y="579.12" width="5.13" height="27.12" fill="#ff7825"/>
<rect x="368.24" y="605.94" width="5.13" height="26.82" fill="#ff9332"/>
<rect x="373.07" y="150" width="5.13" height="53.94" fill="#ff7825"/>
<rect x="373.07" y="203.64" width="5.13" height="53.94" fill="#ff9332"/>
<rect x="373.07" y="257.28" width="5.13" height="13.71" fill="#fb4f1e"/>
<rect x="373.07" y="270.69" width="5.13" height="27.12" fill="#ff7825"/>
<rect x="373.07" y="297.51" width="5.13" height="27.12" fill="#ff9332"/>
<rect x="373.07" y="324.33" width="5.13" height="40.53" fill="#ff7825"/>
<rect x="373.07" y="364.56" width="5.13" height="13.71" fill="#ff9332"/>
<rect x="373.07" y="377.97" width="5.13" height="13.71" fill="#ffab37"/>
<rect x="373.07" y="391.38" width="5.13" height="27.12" fill="#ff9332"/>
<rect x="373.07" y="418.2" width="5.13" height="27.12" fill="#ff7825"/>
<rect x="373.07" y="445.02" width="5.13" height="13.71" fill="#ff9332"/>
<rect x="373.07" y="458.43" width="5.13" height="40.53" fill="#ff7825"/>
<rect x="373.07" y="498.66" width="5.13" height="13.71" fill="#fb4f1e"/>
<rect x="373.07" y="512.07" width="5.13" height="27.12" fill="#ff9332"/>
<rect x="373.07" y="538.89" width="5.13" height="13.71" fill="#ffab37"/>
<rect x="373.07" y="552.3" width="5.13" height="40.53" fill="#ff9332"/>
<rect x="373.07" y="592.53" width="5.13" height="13.71" fill="#ff7825"/>
<rect x="373.07" y="605.94" width="5.13" height="26.82" fill="#ff9332"/>
<rect x="377.9" y="150" width="5.13" height="107.58" fill="#ff7825"/>
<rect x="377.9" y="257.28" width="5.13" height="13.71" fill="#fb4f1e"/>
<rect x="377.9" y="270.69" width="5.13" height="27.12" fill="#ff9332"/>
<rect x="377.9" y="297.51" width="5.13" height="13.71" fill="#ff7825"/>
<rect x="377.9" y="310.92" width="5.13" height="13.71" fill="#ff9332"/>
<rect x="377.9" y="324.33" width="5.13" height="27.12" fill="#ff7825"/>
<rect x="377.9" y="351.15" width="5.13" height="13.71" fill="#ff9332"/>
<rect x="377.9" y="364.56" width="5.13" height="13.71" fill="#ffab37"/>
<rect x="377.9" y="377.97" width="5.13" height="27.12" fill="#ff7825"/>
<rect x="377.9" y="404.79" width="5.13" height="80.76" fill="#ff9332"/>
<rect x="377.9" y="485.25" width="5.13" height="120.99" fill="#ff7825"/>
<rect x="377.9" y="605.94" width="5.13" height="13.71" fill="#ff9332"/>
<rect x="377.9" y="619.35" width="5.13" height="13.41" fill="#ff7825"/>
<rect x="382.73" y="150" width="5.13" height="27.12" fill="#ff9332"/>
<rect x="382.73" y="176.82" width="5.13" height="13.71" fill="#ff7825"/>
<rect x="382.73" y="190.23" width="5.13" height="67.35" fill="#ff9332"/>
<rect x="382.73" y="257.28" width="5.13" height="13.71" fill="#ff7825"/>
<rect x="382.73" y="270.69" width="5.13" height="27.12" fill="#ff9332"/>
<rect x="382.73" y="297.51" width="5.13" height="13.71" fill="#ff7825"/>
<rect x="382.73" y="310.92" width="5.13" height="13.71" fill="#ff9332"/>
<rect x="382.73" y="324.33" width="5.13" height="53.94" fill="#ff7825"/>
<rect x="382.73" y="377.97" width="5.13" height="13.71" fill="#ff9332"/>
<rect x="382.73" y="391.38" width="5.13" height="13.71" fill="#ff7825"/>
<rect x="382.73" y="404.79" width="5.13" height="27.12" fill="#ff9332"/>
<rect x="382.73" y="431.61" width="5.13" height="53.94" fill="#ff7825"/>
<rect x="382.73" y="485.25" width="5.13" height="27.12" fill="#ff9332"/>
<rect x="382.73" y="512.07" width="5.13" height="13.71" fill="#ffab37"/>
<rect x="382.73" y="525.48" width="5.13" height="53.94" fill="#ff9332"/>
<rect x="382.73" y="579.12" width="5.13" height="27.12" fill="#ff7825"/>
<rect x="382.73" y="605.94" width="5.13" height="13.71" fill="#ff9332"/>
<rect x="382.73" y="619.35" width="5.13" height="13.41" fill="#ff7825"/>
<rect x="387.56" y="150" width="5.13" height="40.53" fill="#ff7825"/>
<rect x="387.56" y="190.23" width="5.13" height="13.71" fill="#ff9332"/>
<rect x="387.56" y="203.64" width="5.13" height="27.12" fill="#ff7825"/>
<rect x="387.56" y="230.46" width="5.13" height="13.71" fill="#ff9332"/>
<rect x="387.56" y="243.87" width="5.13" height="161.22" fill="#ff7825"/>
<rect x="387.56" y="404.79" width="5.13" height="13.71" fill="#ff9332"/>
<rect x="387.56" y="418.2" width="5.13" height="188.04" fill="#ff7825"/>
<rect x="387.56" y="605.94" width="5.13" height="13.71" fill="#ff9332"/>
<rect x="387.56" y="619.35" width="5.13" height="13.41" fill="#ff7825"/>
<rect x="392.39" y="150" width="5.13" height="255.09" fill="#ff7825"/>
<rect x="392.39" y="404.79" width="5.13" height="13.71" fill="#ff9332"/>
<rect x="392.39" y="418.2" width="5.13" height="188.04" fill="#ff7825"/>
<rect x="392.39" y="605.94" width="5.13" height="13.71" fill="#ff9332"/>
<rect x="392.39" y="619.35" width="5.13" height="13.41" fill="#ff7825"/>
<rect x="397.22" y="150" width="5.13" height="40.53" fill="#ff7825"/>
<rect x="397.22" y="190.23" width="5.13" height="40.53" fill="#ff9332"/>
<rect x="397.22" y="230.46" width="5.13" height="27.12" fill="#ff7825"/>
<rect x="397.22" y="257.28" width="5.13" height="13.71" fill="#ff9332"/>
<rect x="397.22" y="270.69" width="5.13" height="94.17" fill="#ff7825"/>
<rect x="397.22" y="364.56" width="5.13" height="13.71" fill="#ff9332"/>
<rect x="397.22" y="377.97" width="5.13" height="120.99" fill="#ff7825"/>
<rect x="397.22" y="498.66" width="5.13" height="13.71" fill="#ff9332"/>
<rect x="397.22" y="512.07" width="5.13" height="27.12" fill="#ff7825"/>
<rect x="397.22" y="538.89" width="5.13" height="13.71" fill="#ff9332"/>
<rect x="397.22" y="552.3" width="5.13" height="13.71" fill="#ff7825"/>
<rect x="397.22" y="565.71" width="5.13" height="13.71" fill="#ff9332"/>
<rect x="397.22" y="579.12" width="5.13" height="13.71" fill="#ff7825"/>
<rect x="397.22" y="592.53" width="5.13" height="27.12" fill="#ff9332"/>
<rect x="397.22" y="619.35" width="5.13" height="13.41" fill="#ff7825"/>
<rect x="402.05" y="150" width="5.13" height="442.83" fill="#ff7825"/>
<rect x="402.05" y="592.53" width="5.13" height="27.12" fill="#ff9332"/>
<rect x="402.05" y="619.35" width="5.13" height="13.41" fill="#ff7825"/>
<rect x="406.88" y="150" width="5.13" height="255.09" fill="#ff7825"/>
<rect x="406.88" y="404.79" width="5.13" height="40.53" fill="#ff9332"/>
<rect x="406.88" y="445.02" width="5.13" height="27.12" fill="#ff7825"/>
<rect x="406.88" y="471.84" width="5.13" height="13.71" fill="#ff9332"/>
<rect x="406.88" y="485.25" width="5.13" height="53.94" fill="#ff7825"/>
<rect x="406.88" y="538.89" width="5.13" height="13.71" fill="#ff9332"/>
<rect x="406.88" y="552.3" width="5.13" height="53.94" fill="#ff7825"/>
<rect x="406.88" y="605.94" width="5.13" height="13.71" fill="#ff9332"/>
<rect x="406.88" y="619.35" width="5.13" height="13.41" fill="#ff7825"/>
<rect x="411.71" y="150" width="5.13" height="214.86" fill="#ff7825"/>
<rect x="411.71" y="364.56" width="5.13" height="13.71" fill="#ff9332"/>
<rect x="411.71" y="377.97" width="5.13" height="201.45" fill="#ff7825"/>
<rect x="411.71" y="579.12" width="5.13" height="27.12" fill="#ff9332"/>
<rect x="411.71" y="605.94" width="5.13" height="26.82" fill="#ff7825"/>
<rect x="416.54" y="150" width="5.13" height="362.37" fill="#ff7825"/>
<rect x="416.54" y="512.07" width="5.13" height="13.71" fill="#ff9332"/>
<rect x="416.54" y="525.48" width="5.13" height="27.12" fill="#ff7825"/>
<rect x="416.54" y="552.3" width="5.13" height="27.12" fill="#ff9332"/>
<rect x="416.54" y="579.12" width="5.13" height="13.71" fill="#ffab37"/>
<rect x="416.54" y="592.53" width="5.13" height="13.71" fill="#ff9332"/>
<rect x="416.54" y="605.94" width="5.13" height="13.71" fill="#ff7825"/>
<rect x="416.54" y="619.35" width="5.13" height="13.41" fill="#fb4f1e"/>
<rect x="421.37" y="150" width="5.13" height="80.76" fill="#ff7825"/>
<rect x="421.37" y="230.46" width="5.13" height="13.71" fill="#ff9332"/>
<rect x="421.37" y="243.87" width="5.13" height="67.35" fill="#ff7825"/>
<rect x="421.37" y="310.92" width="5.13" height="13.71" fill="#ff9332"/>
<rect x="421.37" y="324.33" width="5.13" height="67.35" fill="#ff7825"/>
<rect x="421.37" y="391.38" width="5.13" height="13.71" fill="#ff9332"/>
<rect x="421.37" y="404.79" width="5.13" height="53.94" fill="#ff7825"/>
<rect x="421.37" y="458.43" width="5.13" height="13.71" fill="#ff9332"/>
<rect x="421.37" y="471.84" width="5.13" height="80.76" fill="#ff7825"/>
<rect x="421.37" y="552.3" width="5.13" height="53.94" fill="#ff9332"/>
<rect x="421.37" y="605.94" width="5.13" height="26.82" fill="#ff7825"/>
<rect x="426.2" y="150" width="5.13" height="40.53" fill="#ffab37"/>
<rect x="426.2" y="190.23" width="5.13" height="40.53" fill="#ffc23c"/>
<rect x="426.2" y="230.46" width="5.13" height="13.71" fill="#ff9332"/>
<rect x="426.2" y="243.87" width="5.13" height="27.12" fill="#ffc23c"/>
<rect x="426.2" y="270.69" width="5.13" height="13.71" fill="#ffab37"/>
<rect x="426.2" y="284.1" width="5.13" height="27.12" fill="#ff9332"/>
<rect x="426.2" y="310.92" width="5.13" height="53.94" fill="#ffab37"/>
<rect x="426.2" y="364.56" width="5.13" height="120.99" fill="#ff9332"/>
<rect x="426.2" y="485.25" width="5.13" height="27.12" fill="#ffab37"/>
<rect x="426.2" y="512.07" width="5.13" height="13.71" fill="#ff9332"/>
<rect x="426.2" y="525.48" width="5.13" height="13.71" fill="#ffab37"/>
<rect x="426.2" y="538.89" width="5.13" height="40.53" fill="#ff9332"/>
<rect x="426.2" y="579.12" width="5.13" height="13.71" fill="#ff7825"/>
<rect x="426.2" y="592.53" width="5.13" height="27.12" fill="#ff9332"/>
<rect x="426.2" y="619.35" width="5.13" height="13.41" fill="#ff7825"/>
<rect x="431.03" y="150" width="5.13" height="53.94" fill="#ffc23c"/>
<rect x="431.03" y="203.64" width="5.13" height="13.71" fill="#ff9332"/>
<rect x="431.03" y="217.05" width="5.13" height="13.71" fill="#ffc23c"/>
<rect x="431.03" y="230.46" width="5.13" height="13.71" fill="#ffab37"/>
<rect x="431.03" y="243.87" width="5.13" height="13.71" fill="#ffc23c"/>
<rect x="431.03" y="257.28" width="5.13" height="13.71" fill="#ff9332"/>
<rect x="431.03" y="270.69" width="5.13" height="13.71" fill="#ffc23c"/>
<rect x="431.03" y="284.1" width="5.13" height="13.71" fill="#ffab37"/>
<rect x="431.03" y="297.51" width="5.13" height="13.71" fill="#ff9332"/>
<rect x="431.03" y="310.92" width="5.13" height="40.53" fill="#ffab37"/>
<rect x="431.03" y="351.15" width="5.13" height="27.12" fill="#ffc23c"/>
<rect x="431.03" y="377.97" width="5.13" height="40.53" fill="#ff9332"/>
<rect x="431.03" y="418.2" width="5.13" height="67.35" fill="#ffab37"/>
<rect x="431.03" y="485.25" width="5.13" height="120.99" fill="#ff9332"/>
<rect x="431.03" y="605.94" width="5.13" height="26.82" fill="#ff7825"/>
<rect x="435.86" y="150" width="5.13" height="120.99" fill="#ff7825"/>
<rect x="435.86" y="270.69" width="5.13" height="27.12" fill="#ff9332"/>
<rect x="435.86" y="297.51" width="5.13" height="27.12" fill="#ff7825"/>
<rect x="435.86" y="324.33" width="5.13" height="40.53" fill="#ff9332"/>
<rect x="435.86" y="364.56" width="5.13" height="13.71" fill="#ff7825"/>
<rect x="435.86" y="377.97" width="5.13" height="13.71" fill="#fb4f1e"/>
<rect x="435.86" y="391.38" width="5.13" height="13.71" fill="#ff9332"/>
<rect x="435.86" y="404.79" width="5.13" height="13.71" fill="#ff7825"/>
<rect x="435.86" y="418.2" width="5.13" height="67.35" fill="#ff9332"/>
<rect x="435.86" y="485.25" width="5.13" height="147.51" fill="#ff7825"/>
<rect x="440.69" y="150" width="5.13" height="53.94" fill="#ff9332"/>
<rect x="440.69" y="203.64" width="5.13" height="13.71" fill="#ff7825"/>
<rect x="440.69" y="217.05" width="5.13" height="13.71" fill="#ff9332"/>
<rect x="440.69" y="230.46" width="5.13" height="13.71" fill="#ff7825"/>
<rect x="440.69" y="243.87" width="5.13" height="27.12" fill="#ff9332"/>
<rect x="440.69" y="270.69" width="5.13" height="27.12" fill="#ff7825"/>
<rect x="440.69" y="297.51" width="5.13" height="13.71" fill="#ff9332"/>
<rect x="440.69" y="310.92" width="5.13" height="27.12" fill="#ff7825"/>
<rect x="440.69" y="337.74" width="5.13" height="13.71" fill="#ff9332"/>
<rect x="440.69" y="351.15" width="5.13" height="281.61" fill="#ff7825"/>
<rect x="445.52" y="150" width="5.13" height="53.94" fill="#ff9332"/>
<rect x="445.52" y="203.64" width="5.13" height="53.94" fill="#ff7825"/>
<rect x="445.52" y="257.28" width="5.13" height="53.94" fill="#ff9332"/>
<rect x="445.52" y="310.92" width="5.13" height="13.71" fill="#ff7825"/>
<rect x="445.52" y="324.33" width="5.13" height="40.53" fill="#ff9332"/>
<rect x="445.52" y="364.56" width="5.13" height="27.12" fill="#ff7825"/>
<rect x="445.52" y="391.38" width="5.13" height="13.71" fill="#ff9332"/>
<rect x="445.52" y="404.79" width="5.13" height="13.71" fill="#ff7825"/>
<rect x="445.52" y="418.2" width="5.13" height="67.35" fill="#ff9332"/>
<rect x="445.52" y="485.25" width="5.13" height="147.51" fill="#ff7825"/>
<rect x="450.35" y="150" width="5.13" height="482.76" fill="#ff7825"/>
<rect x="455.18" y="150" width="5.13" height="482.76" fill="#ff7825"/>
<rect x="460.01" y="150" width="5.13" height="40.53" fill="#ff7825"/>
<rect x="460.01" y="190.23" width="5.13" height="40.53" fill="#ff9332"/>
<rect x="460.01" y="230.46" width="5.13" height="13.71" fill="#ff7825"/>
<rect x="460.01" y="243.87" width="5.13" height="27.12" fill="#ff9332"/>
<rect x="460.01" y="270.69" width="5.13" height="53.94" fill="#ff7825"/>
<rect x="460.01" y="324.33" width="5.13" height="13.71" fill="#ff9332"/>
<rect x="460.01" y="337.74" width="5.13" height="295.02" fill="#ff7825"/>
<rect x="464.84" y="150" width="5.13" height="80.76" fill="#ff9332"/>
<rect x="464.84" y="230.46" width="5.13" height="13.71" fill="#ff7825"/>
<rect x="464.84" y="243.87" width="5.13" height="27.12" fill="#ff9332"/>
<rect x="464.84" y="270.69" width="5.13" height="40.53" fill="#ff7825"/>
<rect x="464.84" y="310.92" width="5.13" height="27.12" fill="#ff9332"/>
<rect x="464.84" y="337.74" width="5.13" height="13.71" fill="#ff7825"/>
<rect x="464.84" y="351.15" width="5.13" height="13.71" fill="#ff9332"/>
<rect x="464.84" y="364.56" width="5.13" height="134.4" fill="#ff7825"/>
<rect x="464.84" y="498.66" width="5.13" height="13.71" fill="#ff9332"/>
<rect x="464.84" y="512.07" width="5.13" height="120.69" fill="#ff7825"/>
<rect x="469.67" y="150" width="5.13" height="429.42" fill="#ff7825"/>
<rect x="469.67" y="579.12" width="5.13" height="27.12" fill="#fb4f1e"/>
<rect x="469.67" y="605.94" width="5.13" height="26.82" fill="#ff7825"/>
<rect x="474.5" y="150" width="5.13" height="442.83" fill="#ff7825"/>
<rect x="474.5" y="592.53" width="5.13" height="13.71" fill="#fb4f1e"/>
<rect x="474.5" y="605.94" width="5.13" height="26.82" fill="#ff7825"/>
<rect x="479.33" y="150" width="5.13" height="53.94" fill="#ff7825"/>
<rect x="479.33" y="203.64" width="5.13" height="13.71" fill="#ff9332"/>
<rect x="479.33" y="217.05" width="5.13" height="27.12" fill="#ff7825"/>
<rect x="479.33" y="243.87" width="5.13" height="27.12" fill="#ff9332"/>
<rect x="479.33" y="270.69" width="5.13" height="335.55" fill="#ff7825"/>
<rect x="479.33" y="605.94" width="5.13" height="13.71" fill="#fb4f1e"/>
<rect x="479.33" y="619.35" width="5.13" height="13.41" fill="#ff7825"/>
<rect x="484.16" y="150" width="5.13" height="482.76" fill="#ff7825"/>
<rect x="488.99" y="150" width="5.13" height="429.42" fill="#ff7825"/>
<rect x="488.99" y="579.12" width="5.13" height="13.71" fill="#fb4f1e"/>
<rect x="488.99" y="592.53" width="5.13" height="40.23" fill="#ff7825"/>
<rect x="493.82" y="150" width="5.13" height="40.53" fill="#ff7825"/>
<rect x="493.82" y="190.23" width="5.13" height="40.53" fill="#ff9332"/>
<rect x="493.82" y="230.46" width="5.13" height="27.12" fill="#ff7825"/>
<rect x="493.82" y="257.28" width="5.13" height="40.53" fill="#ff9332"/>
<rect x="493.82" y="297.51" width="5.13" height="188.04" fill="#ff7825"/>
<rect x="493.82" y="485.25" width="5.13" height="67.35" fill="#ff9332"/>
<rect x="493.82" y="552.3" width="5.13" height="67.35" fill="#ff7825"/>
<rect x="493.82" y="619.35" width="5.13" height="13.41" fill="#fb4f1e"/>
<rect x="498.65" y="150" width="5.13" height="469.65" fill="#ff7825"/>
<rect x="498.65" y="619.35" width="5.13" height="13.41" fill="#fb4f1e"/>
<rect x="503.48" y="150" width="5.13" height="27.12" fill="#ff9332"/>
<rect x="503.48" y="176.82" width="5.13" height="13.71" fill="#ff7825"/>
<rect x="503.48" y="190.23" width="5.13" height="27.12" fill="#ff9332"/>
<rect x="503.48" y="217.05" width="5.13" height="27.12" fill="#ff7825"/>
<rect x="503.48" y="243.87" width="5.13" height="27.12" fill="#ff9332"/>
<rect x="503.48" y="270.69" width="5.13" height="13.71" fill="#ffab37"/>
<rect x="503.48" y="284.1" width="5.13" height="94.17" fill="#ff9332"/>
<rect x="503.48" y="377.97" width="5.13" height="40.53" fill="#ff7825"/>
<rect x="503.48" y="418.2" width="5.13" height="53.94" fill="#ff9332"/>
<rect x="503.48" y="471.84" width="5.13" height="13.71" fill="#ffab37"/>
<rect x="503.48" y="485.25" width="5.13" height="53.94" fill="#ff9332"/>
<rect x="503.48" y="538.89" width="5.13" height="93.87" fill="#ff7825"/>
<rect x="508.31" y="150" width="5.13" height="335.55" fill="#ff7825"/>
<rect x="508.31" y="485.25" width="5.13" height="67.35" fill="#ff9332"/>
<rect x="508.31" y="552.3" width="5.13" height="80.46" fill="#ff7825"/>
<rect x="513.14" y="150" width="5.13" height="94.17" fill="#ff7825"/>
<rect x="513.14" y="243.87" width="5.13" height="13.71" fill="#ff9332"/>
<rect x="513.14" y="257.28" width="5.13" height="161.22" fill="#ff7825"/>
<rect x="513.14" y="418.2" width="5.13" height="13.71" fill="#ff9332"/>
<rect x="513.14" y="431.61" width="5.13" height="53.94" fill="#ff7825"/>
<rect x="513.14" y="485.25" width="5.13" height="67.35" fill="#ff9332"/>
<rect x="513.14" y="552.3" width="5.13" height="13.71" fill="#ff7825"/>
<rect x="513.14" y="565.71" width="5.13" height="13.71" fill="#ff9332"/>
<rect x="513.14" y="579.12" width="5.13" height="53.64" fill="#ff7825"/>
<rect x="517.97" y="150" width="5.13" height="107.58" fill="#ff7825"/>
<rect x="517.97" y="257.28" width="5.13" height="94.17" fill="#ff9332"/>
<rect x="517.97" y="351.15" width="5.13" height="13.71" fill="#ff7825"/>
<rect x="517.97" y="364.56" width="5.13" height="13.71" fill="#ff9332"/>
<rect x="517.97" y="377.97" width="5.13" height="40.53" fill="#ff7825"/>
<rect x="517.97" y="418.2" width="5.13" height="40.53" fill="#ff9332"/>
<rect x="517.97" y="458.43" width="5.13" height="13.71" fill="#ff7825"/>
<rect x="517.97" y="471.84" width="5.13" height="13.71" fill="#ff9332"/>
<rect x="517.97" y="485.25" width="5.13" height="53.94" fill="#ff7825"/>
<rect x="517.97" y="538.89" width="5.13" height="13.71" fill="#ff9332"/>
<rect x="517.97" y="552.3" width="5.13" height="80.46" fill="#ff7825"/>
<rect x="522.8" y="150" width="5.13" height="120.99" fill="#ff7825"/>
<rect x="522.8" y="270.69" width="5.13" height="40.53" fill="#ff9332"/>
<rect x="522.8" y="310.92" width="5.13" height="53.94" fill="#ff7825"/>
<rect x="522.8" y="364.56" width="5.13" height="13.71" fill="#ff9332"/>
<rect x="522.8" y="377.97" width="5.13" height="53.94" fill="#ff7825"/>
<rect x="522.8" y="431.61" width="5.13" height="13.71" fill="#ff9332"/>
<rect x="522.8" y="445.02" width="5.13" height="120.99" fill="#ff7825"/>
<rect x="522.8" y="565.71" width="5.13" height="13.71" fill="#ff9332"/>
<rect x="522.8" y="579.12" width="5.13" height="53.64" fill="#ff7825"/>
<rect x="527.63" y="150" width="5.13" height="120.99" fill="#ff7825"/>
<rect x="527.63" y="270.69" width="5.13" height="67.35" fill="#ff9332"/>
<rect x="527.63" y="337.74" width="5.13" height="27.12" fill="#ff7825"/>
<rect x="527.63" y="364.56" width="5.13" height="13.71" fill="#ff9332"/>
<rect x="527.63" y="377.97" width="5.13" height="241.68" fill="#ff7825"/>
<rect x="527.63" y="619.35" width="5.13" height="13.41" fill="#ff9332"/>
<rect x="532.46" y="150" width="5.13" height="80.76" fill="#ff7825"/>
<rect x="532.46" y="230.46" width="5.13" height="40.53" fill="#ff9332"/>
<rect x="532.46" y="270.69" width="5.13" height="134.4" fill="#ff7825"/>
<rect x="532.46" y="404.79" width="5.13" height="13.71" fill="#ff9332"/>
<rect x="532.46" y="418.2" width="5.13" height="134.4" fill="#ff7825"/>
<rect x="532.46" y="552.3" width="5.13" height="13.71" fill="#ff9332"/>
<rect x="532.46" y="565.71" width="5.13" height="67.05" fill="#ff7825"/>
<rect x="537.29" y="150" width="5.13" height="456.24" fill="#ff7825"/>
<rect x="537.29" y="605.94" width="5.13" height="13.71" fill="#fb4f1e"/>
<rect x="537.29" y="619.35" width="5.13" height="13.41" fill="#ff9332"/>
<rect x="542.12" y="150" width="5.13" height="53.94" fill="#ffc23c"/>
<rect x="542.12" y="203.64" width="5.13" height="13.71" fill="#ff9332"/>
<rect x="542.12" y="217.05" width="5.13" height="13.71" fill="#ffc23c"/>
<rect x="542.12" y="230.46" width="5.13" height="348.96" fill="#ff9332"/>
<rect x="542.12" y="579.12" width="5.13" height="53.64" fill="#ff7825"/>
<rect x="546.95" y="150" width="5.13" height="53.94" fill="#ff7825"/>
<rect x="546.95" y="203.64" width="5.13" height="13.71" fill="#fb4f1e"/>
<rect x="546.95" y="217.05" width="5.13" height="362.37" fill="#ff7825"/>
<rect x="546.95" y="579.12" width="5.13" height="13.71" fill="#ff9332"/>
<rect x="546.95" y="592.53" width="5.13" height="40.23" fill="#ff7825"/>
<rect x="551.78" y="150" width="5.13" height="120.99" fill="#ffc23c"/>
<rect x="551.78" y="270.69" width="5.13" height="13.71" fill="#ffab37"/>
<rect x="551.78" y="284.1" width="5.13" height="27.12" fill="#ff9332"/>
<rect x="551.78" y="310.92" width="5.13" height="53.94" fill="#ffab37"/>
<rect x="551.78" y="364.56" width="5.13" height="214.86" fill="#ff9332"/>
<rect x="551.78" y="579.12" width="5.13" height="13.71" fill="#ffab37"/>
<rect x="551.78" y="592.53" width="5.13" height="40.23" fill="#ff7825"/>
<rect x="556.61" y="150" width="5.13" height="40.53" fill="#ffab37"/>
<rect x="556.61" y="190.23" width="5.13" height="80.76" fill="#ffc23c"/>
<rect x="556.61" y="270.69" width="5.13" height="94.17" fill="#ffab37"/>
<rect x="556.61" y="364.56" width="5.13" height="214.86" fill="#ff9332"/>
<rect x="556.61" y="579.12" width="5.13" height="53.64" fill="#ff7825"/>
<rect x="561.44" y="150" width="5.13" height="27.12" fill="#ffc23c"/>
<rect x="561.44" y="176.82" width="5.13" height="13.71" fill="#ffab37"/>
<rect x="561.44" y="190.23" width="5.13" height="67.35" fill="#ffc23c"/>
<rect x="561.44" y="257.28" width="5.13" height="107.58" fill="#ffab37"/>
<rect x="561.44" y="364.56" width="5.13" height="53.94" fill="#ff9332"/>
<rect x="561.44" y="418.2" width="5.13" height="27.12" fill="#ffab37"/>
<rect x="561.44" y="445.02" width="5.13" height="27.12" fill="#ff9332"/>
<rect x="561.44" y="471.84" width="5.13" height="13.71" fill="#ffab37"/>
<rect x="561.44" y="485.25" width="5.13" height="53.94" fill="#ff9332"/>
<rect x="561.44" y="538.89" width="5.13" height="13.71" fill="#ffab37"/>
<rect x="561.44" y="552.3" width="5.13" height="13.71" fill="#ff9332"/>
<rect x="561.44" y="565.71" width="5.13" height="27.12" fill="#ffab37"/>
<rect x="561.44" y="592.53" width="5.13" height="40.23" fill="#ff7825"/>
<rect x="566.27" y="150" width="5.13" height="40.53" fill="#ffc23c"/>
<rect x="566.27" y="190.23" width="5.13" height="13.71" fill="#ffab37"/>
<rect x="566.27" y="203.64" width="5.13" height="40.53" fill="#ffc23c"/>
<rect x="566.27" y="243.87" width="5.13" height="134.4" fill="#ffab37"/>
<rect x="566.27" y="377.97" width="5.13" height="13.71" fill="#ff9332"/>
<rect x="566.27" y="391.38" width="5.13" height="13.71" fill="#ffab37"/>
<rect x="566.27" y="404.79" width="5.13" height="13.71" fill="#ff9332"/>
<rect x="566.27" y="418.2" width="5.13" height="13.71" fill="#ffab37"/>
<rect x="566.27" y="431.61" width="5.13" height="27.12" fill="#ff9332"/>
<rect x="566.27" y="458.43" width="5.13" height="27.12" fill="#ffab37"/>
<rect x="566.27" y="485.25" width="5.13" height="107.58" fill="#ff9332"/>
<rect x="566.27" y="592.53" width="5.13" height="40.23" fill="#ff7825"/>
<rect x="571.1" y="150" width="5.13" height="53.94" fill="#ffc23c"/>
<rect x="571.1" y="203.64" width="5.13" height="13.71" fill="#ffab37"/>
<rect x="571.1" y="217.05" width="5.13" height="40.53" fill="#ffc23c"/>
<rect x="571.1" y="257.28" width="5.13" height="107.58" fill="#ffab37"/>
<rect x="571.1" y="364.56" width="5.13" height="214.86" fill="#ff9332"/>
<rect x="571.1" y="579.12" width="5.13" height="53.64" fill="#ff7825"/>
<rect x="575.93" y="150" width="5.13" height="13.71" fill="#ffc23c"/>
<rect x="575.93" y="163.41" width="5.13" height="27.12" fill="#ffab37"/>
<rect x="575.93" y="190.23" width="5.13" height="40.53" fill="#ffc23c"/>
<rect x="575.93" y="230.46" width="5.13" height="13.71" fill="#ffab37"/>
<rect x="575.93" y="243.87" width="5.13" height="53.94" fill="#ffc23c"/>
<rect x="575.93" y="297.51" width="5.13" height="13.71" fill="#ffab37"/>
<rect x="575.93" y="310.92" width="5.13" height="13.71" fill="#ffc23c"/>
<rect x="575.93" y="324.33" width="5.13" height="27.12" fill="#ffab37"/>
<rect x="575.93" y="351.15" width="5.13" height="27.12" fill="#ffc23c"/>
<rect x="575.93" y="377.97" width="5.13" height="13.71" fill="#ff9332"/>
<rect x="575.93" y="391.38" width="5.13" height="13.71" fill="#ffab37"/>
<rect x="575.93" y="404.79" width="5.13" height="13.71" fill="#ff9332"/>
<rect x="575.93" y="418.2" width="5.13" height="13.71" fill="#ffab37"/>
<rect x="575.93" y="431.61" width="5.13" height="13.71" fill="#ff9332"/>
<rect x="575.93" y="445.02" width="5.13" height="27.12" fill="#ffab37"/>
<rect x="575.93" y="471.84" width="5.13" height="13.71" fill="#ffc23c"/>
<rect x="575.93" y="485.25" width="5.13" height="53.94" fill="#ffab37"/>
<rect x="575.93" y="538.89" width="5.13" height="40.53" fill="#ff9332"/>
<rect x="575.93" y="579.12" width="5.13" height="53.64" fill="#ff7825"/>
<rect x="580.76" y="150" width="5.13" height="214.86" fill="#ff7825"/>
<rect x="580.76" y="364.56" width="5.13" height="13.71" fill="#ff9332"/>
<rect x="580.76" y="377.97" width="5.13" height="40.53" fill="#ff7825"/>
<rect x="580.76" y="418.2" width="5.13" height="27.12" fill="#ff9332"/>
<rect x="580.76" y="445.02" width="5.13" height="53.94" fill="#ff7825"/>
<rect x="580.76" y="498.66" width="5.13" height="13.71" fill="#ff9332"/>
<rect x="580.76" y="512.07" width="5.13" height="27.12" fill="#ff7825"/>
<rect x="580.76" y="538.89" width="5.13" height="13.71" fill="#ff9332"/>
<rect x="580.76" y="552.3" width="5.13" height="13.71" fill="#ff7825"/>
<rect x="580.76" y="565.71" width="5.13" height="13.71" fill="#ff9332"/>
<rect x="580.76" y="579.12" width="5.13" height="13.71" fill="#ff7825"/>
<rect x="580.76" y="592.53" width="5.13" height="27.12" fill="#ff9332"/>
<rect x="580.76" y="619.35" width="5.13" height="13.41" fill="#ff7825"/>
<rect x="585.59" y="150" width="5.13" height="13.71" fill="#ff9332"/>
<rect x="585.59" y="163.41" width="5.13" height="13.71" fill="#ff7825"/>
<rect x="585.59" y="176.82" width="5.13" height="27.12" fill="#ff9332"/>
<rect x="585.59" y="203.64" width="5.13" height="13.71" fill="#ff7825"/>
<rect x="585.59" y="217.05" width="5.13" height="53.94" fill="#ff9332"/>
<rect x="585.59" y="270.69" width="5.13" height="27.12" fill="#ff7825"/>
<rect x="585.59" y="297.51" width="5.13" height="27.12" fill="#ff9332"/>
<rect x="585.59" y="324.33" width="5.13" height="13.71" fill="#ff7825"/>
<rect x="585.59" y="337.74" width="5.13" height="40.53" fill="#ff9332"/>
<rect x="585.59" y="377.97" width="5.13" height="13.71" fill="#ff7825"/>
<rect x="585.59" y="391.38" width="5.13" height="13.71" fill="#ff9332"/>
<rect x="585.59" y="404.79" width="5.13" height="13.71" fill="#ff7825"/>
<rect x="585.59" y="418.2" width="5.13" height="120.99" fill="#ff9332"/>
<rect x="585.59" y="538.89" width="5.13" height="13.71" fill="#ff7825"/>
<rect x="585.59" y="552.3" width="5.13" height="40.53" fill="#ff9332"/>
<rect x="585.59" y="592.53" width="5.13" height="40.23" fill="#ff7825"/>
<rect x="590.42" y="150" width="5.13" height="482.76" fill="#ff7825"/>
<rect x="595.25" y="150" width="5.13" height="40.53" fill="#ff7825"/>
<rect x="595.25" y="190.23" width="5.13" height="40.53" fill="#ff9332"/>
<rect x="595.25" y="230.46" width="5.13" height="13.71" fill="#ff7825"/>
<rect x="595.25" y="243.87" width="5.13" height="27.12" fill="#ff9332"/>
<rect x="595.25" y="270.69" width="5.13" height="362.07" fill="#ff7825"/>
<rect x="600.08" y="150" width="5.13" height="53.94" fill="#ff7825"/>
<rect x="600.08" y="203.64" width="5.13" height="13.71" fill="#ff9332"/>
<rect x="600.08" y="217.05" width="5.13" height="27.12" fill="#ff7825"/>
<rect x="600.08" y="243.87" width="5.13" height="53.94" fill="#ff9332"/>
<rect x="600.08" y="297.51" width="5.13" height="13.71" fill="#ff7825"/>
<rect x="600.08" y="310.92" width="5.13" height="13.71" fill="#ffab37"/>
<rect x="600.08" y="324.33" width="5.13" height="40.53" fill="#ff9332"/>
<rect x="600.08" y="364.56" width="5.13" height="13.71" fill="#ffab37"/>
<rect x="600.08" y="377.97" width="5.13" height="40.53" fill="#ff7825"/>
<rect x="600.08" y="418.2" width="5.13" height="53.94" fill="#ff9332"/>
<rect x="600.08" y="471.84" width="5.13" height="13.71" fill="#ffab37"/>
<rect x="600.08" y="485.25" width="5.13" height="80.76" fill="#ff9332"/>
<rect x="600.08" y="565.71" width="5.13" height="67.05" fill="#ff7825"/>
<rect x="604.91" y="150" width="5.13" height="40.53" fill="#ff7825"/>
<rect x="604.91" y="190.23" width="5.13" height="13.71" fill="#ff9332"/>
<rect x="604.91" y="203.64" width="5.13" height="53.94" fill="#ff7825"/>
<rect x="604.91" y="257.28" width="5.13" height="13.71" fill="#ff9332"/>
<rect x="604.91" y="270.69" width="5.13" height="40.53" fill="#ff7825"/>
<rect x="604.91" y="310.92" width="5.13" height="13.71" fill="#ff9332"/>
<rect x="604.91" y="324.33" width="5.13" height="40.53" fill="#ff7825"/>
<rect x="604.91" y="364.56" width="5.13" height="13.71" fill="#ff9332"/>
<rect x="604.91" y="377.97" width="5.13" height="40.53" fill="#ff7825"/>
<rect x="604.91" y="418.2" width="5.13" height="40.53" fill="#ff9332"/>
<rect x="604.91" y="458.43" width="5.13" height="174.33" fill="#ff7825"/>
<rect x="609.74" y="150" width="5.13" height="107.58" fill="#ff7825"/>
<rect x="609.74" y="257.28" width="5.13" height="13.71" fill="#ff9332"/>
<rect x="609.74" y="270.69" width="5.13" height="362.07" fill="#ff7825"/>
<rect x="614.57" y="150" width="4.83" height="255.09" fill="#ff7825"/>
<rect x="614.57" y="404.79" width="4.83" height="13.71" fill="#ff9332"/>
<rect x="614.57" y="418.2" width="4.83" height="27.12" fill="#ff7825"/>
<rect x="614.57" y="445.02" width="4.83" height="13.71" fill="#ffab37"/>
<rect x="614.57" y="458.43" width="4.83" height="174.33" fill="#ff7825"/>
</g>
<path d="M137.8 146.91L137.8 102.6 M142.64 146.91L142.64 102.6 M137.8 102.6L142.64 102.6 M152.31 146.91L152.31 119.87 M157.15 146.91L157.15 119.87 M152.31 119.87L157.15 119.87 M147.47 146.91L147.47 104.99 M154.73 119.87L154.73 104.99 M147.47 104.99L154.73 104.99 M161.99 146.91L161.99 112.98 M166.82 146.91L166.82 112.98 M161.99 112.98L166.82 112.98 M171.66 146.91L171.66 125.61 M176.5 146.91L176.5 125.61 M171.66 125.61L176.5 125.61 M186.17 146.91L186.17 135.98 M191.01 146.91L191.01 135.98 M186.17 135.98L191.01 135.98 M181.33 146.91L181.33 129.22 M188.59 135.98L188.59 129.22 M181.33 129.22L188.59 129.22 M174.08 125.61L174.08 114.41 M184.96 129.22L184.96 114.41 M174.08 114.41L184.96 114.41 M164.4 112.98L164.4 95.91 M179.52 114.41L179.52 95.91 M164.4 95.91L179.52 95.91 M151.1 104.99L151.1 92.02 M171.96 95.91L171.96 92.02 M151.1 92.02L171.96 92.02 M195.84 146.91L195.84 123.69 M200.68 146.91L200.68 123.69 M195.84 123.69L200.68 123.69 M205.52 146.91L205.52 125.61 M210.36 146.91L210.36 125.61 M205.52 125.61L210.36 125.61 M220.03 146.91L220.03 134.07 M224.87 146.91L224.87 134.07 M220.03 134.07L224.87 134.07 M215.19 146.91L215.19 132.64 M222.45 134.07L222.45 132.64 M215.19 132.64L222.45 132.64 M229.7 146.91L229.7 132.64 M234.54 146.91L234.54 132.64 M229.7 132.64L234.54 132.64 M239.38 146.91L239.38 137.89 M244.21 146.91L244.21 137.89 M239.38 137.89L244.21 137.89 M249.05 146.91L249.05 134.69 M253.89 146.91L253.89 134.69 M249.05 134.69L253.89 134.69 M241.8 137.89L241.8 126.77 M251.47 134.69L251.47 126.77 M241.8 126.77L251.47 126.77 M232.12 132.64L232.12 121.78 M246.63 126.77L246.63 121.78 M232.12 121.78L246.63 121.78 M218.82 132.64L218.82 118.44 M239.38 121.78L239.38 118.44 M218.82 118.44L239.38 118.44 M207.94 125.61L207.94 114.41 M229.1 118.44L229.1 114.41 M207.94 114.41L229.1 114.41 M198.26 123.69L198.26 94.95 M218.52 114.41L218.52 94.95 M198.26 94.95L218.52 94.95 M161.53 92.02L161.53 60.2 M208.39 94.95L208.39 60.2 M161.53 60.2L208.39 60.2 M140.22 102.6L140.22 59.25 M184.96 60.2L184.96 59.25 M140.22 59.25L184.96 59.25 M263.56 146.91L263.56 138.85 M268.4 146.91L268.4 138.85 M263.56 138.85L268.4 138.85 M258.73 146.91L258.73 135.98 M265.98 138.85L265.98 135.98 M258.73 135.98L265.98 135.98 M282.91 146.91L282.91 142.67 M287.75 146.91L287.75 142.67 M282.91 142.67L287.75 142.67 M278.07 146.91L278.07 136.53 M285.33 142.67L285.33 136.53 M278.07 136.53L285.33 136.53 M273.24 146.91L273.24 133.46 M281.7 136.53L281.7 133.46 M273.24 133.46L281.7 133.46 M262.35 135.98L262.35 130.25 M277.47 133.46L277.47 130.25 M262.35 130.25L277.47 130.25 M297.42 146.91L297.42 132.16 M302.26 146.91L302.26 132.16 M297.42 132.16L302.26 132.16 M292.58 146.91L292.58 127.31 M299.84 132.16L299.84 127.31 M292.58 127.31L299.84 127.31 M307.1 146.91L307.1 134.82 M311.93 146.91L311.93 134.82 M307.1 134.82L311.93 134.82 M321.61 146.91L321.61 141.72 M326.44 146.91L326.44 141.72 M321.61 141.72L326.44 141.72 M316.77 146.91L316.77 135.37 M324.02 141.72L324.02 135.37 M316.77 135.37L324.02 135.37 M309.51 134.82L309.51 130.59 M320.4 135.37L320.4 130.59 M309.51 130.59L320.4 130.59 M296.21 127.31L296.21 121.03 M314.96 130.59L314.96 121.03 M296.21 121.03L314.96 121.03 M331.28 146.91L331.28 136.53 M336.12 146.91L336.12 136.53 M331.28 136.53L336.12 136.53 M350.63 146.91L350.63 140.56 M355.47 146.91L355.47 140.56 M350.63 140.56L355.47 140.56 M345.79 146.91L345.79 138.51 M353.05 140.56L353.05 138.51 M345.79 138.51L353.05 138.51 M340.95 146.91L340.95 135.64 M349.42 138.51L349.42 135.64 M340.95 135.64L349.42 135.64 M333.7 136.53L333.7 132.16 M345.19 135.64L345.19 132.16 M333.7 132.16L345.19 132.16 M369.98 146.91L369.98 144.59 M374.81 146.91L374.81 144.59 M369.98 144.59L374.81 144.59 M365.14 146.91L365.14 137.69 M372.39 144.59L372.39 137.69 M365.14 137.69L372.39 137.69 M360.3 146.91L360.3 135.64 M368.77 137.69L368.77 135.64 M360.3 135.64L368.77 135.64 M379.65 146.91L379.65 138.51 M384.49 146.91L384.49 138.51 M379.65 138.51L384.49 138.51 M394.16 146.91L394.16 142.88 M399 146.91L399 142.88 M394.16 142.88L399 142.88 M403.83 146.91L403.83 141.72 M408.67 146.91L408.67 141.72 M403.83 141.72L408.67 141.72 M396.58 142.88L396.58 139.67 M406.25 141.72L406.25 139.67 M396.58 139.67L406.25 139.67 M389.32 146.91L389.32 139.12 M401.42 139.67L401.42 139.12 M389.32 139.12L401.42 139.12 M382.07 138.51L382.07 134.48 M395.37 139.12L395.37 134.48 M382.07 134.48L395.37 134.48 M364.53 135.64L364.53 127.65 M388.72 134.48L388.72 127.65 M364.53 127.65L388.72 127.65 M339.44 132.16L339.44 126.97 M376.63 127.65L376.63 126.97 M339.44 126.97L376.63 126.97 M305.58 121.03L305.58 116.05 M358.03 126.97L358.03 116.05 M305.58 116.05L358.03 116.05 M269.91 130.25L269.91 107.51 M331.81 116.05L331.81 107.51 M269.91 107.51L331.81 107.51 M413.51 146.91L413.51 135.71 M418.35 146.91L418.35 135.71 M413.51 135.71L418.35 135.71 M428.02 146.91L428.02 133.53 M432.86 146.91L432.86 133.53 M428.02 133.53L432.86 133.53 M423.18 146.91L423.18 126.84 M430.44 133.53L430.44 126.84 M423.18 126.84L430.44 126.84 M415.93 135.71L415.93 121.65 M426.81 126.84L426.81 121.65 M415.93 121.65L426.81 121.65 M442.53 146.91L442.53 143.9 M447.37 146.91L447.37 143.9 M442.53 143.9L447.37 143.9 M452.2 146.91L452.2 143.42 M457.04 146.91L457.04 143.42 M452.2 143.42L457.04 143.42 M461.88 146.91L461.88 141.72 M466.72 146.91L466.72 141.72 M461.88 141.72L466.72 141.72 M454.62 143.42L454.62 141.51 M464.3 141.72L464.3 141.51 M454.62 141.51L464.3 141.51 M444.95 143.9L444.95 139.12 M459.46 141.51L459.46 139.12 M444.95 139.12L459.46 139.12 M437.69 146.91L437.69 135.78 M452.21 139.12L452.21 135.78 M437.69 135.78L452.21 135.78 M471.55 146.91L471.55 142.61 M476.39 146.91L476.39 142.61 M471.55 142.61L476.39 142.61 M486.06 146.91L486.06 143.77 M490.9 146.91L490.9 143.77 M486.06 143.77L490.9 143.77 M481.23 146.91L481.23 140.35 M488.48 143.77L488.48 140.35 M481.23 140.35L488.48 140.35 M473.97 142.61L473.97 139.94 M484.85 140.35L484.85 139.94 M473.97 139.94L484.85 139.94 M500.57 146.91L500.57 138.78 M505.41 146.91L505.41 138.78 M500.57 138.78L505.41 138.78 M495.74 146.91L495.74 138.3 M502.99 138.78L502.99 138.3 M495.74 138.3L502.99 138.3 M510.25 146.91L510.25 143.56 M515.09 146.91L515.09 143.56 M510.25 143.56L515.09 143.56 M519.92 146.91L519.92 142.4 M524.76 146.91L524.76 142.4 M519.92 142.4L524.76 142.4 M512.67 143.56L512.67 138.3 M522.34 142.4L522.34 138.3 M512.67 138.3L522.34 138.3 M499.37 138.3L499.37 134.96 M517.5 138.3L517.5 134.96 M499.37 134.96L517.5 134.96 M479.41 139.94L479.41 130.04 M508.44 134.96L508.44 130.04 M479.41 130.04L508.44 130.04 M444.95 135.78L444.95 129.36 M493.92 130.04L493.92 129.36 M444.95 129.36L493.92 129.36 M529.6 146.91L529.6 137.35 M534.43 146.91L534.43 137.35 M529.6 137.35L534.43 137.35 M539.27 146.91L539.27 132.98 M544.11 146.91L544.11 132.98 M539.27 132.98L544.11 132.98 M532.02 137.35L532.02 130.66 M541.69 132.98L541.69 130.66 M532.02 130.66L541.69 130.66 M553.78 146.91L553.78 139.06 M558.62 146.91L558.62 139.06 M553.78 139.06L558.62 139.06 M563.46 146.91L563.46 139.6 M568.29 146.91L568.29 139.6 M563.46 139.6L568.29 139.6 M556.2 139.06L556.2 136.39 M565.87 139.6L565.87 136.39 M556.2 136.39L565.87 136.39 M548.94 146.91L548.94 128.88 M561.04 136.39L561.04 128.88 M548.94 128.88L561.04 128.88 M573.13 146.91L573.13 135.3 M577.97 146.91L577.97 135.3 M573.13 135.3L577.97 135.3 M582.8 146.91L582.8 137.21 M587.64 146.91L587.64 137.21 M582.8 137.21L587.64 137.21 M597.32 146.91L597.32 139.06 M602.15 146.91L602.15 139.06 M597.32 139.06L602.15 139.06 M611.83 146.91L611.83 141.24 M616.66 146.91L616.66 141.24 M611.83 141.24L616.66 141.24 M606.99 146.91L606.99 139.6 M614.24 141.24L614.24 139.6 M606.99 139.6L614.24 139.6 M599.73 139.06L599.73 136.73 M610.62 139.6L610.62 136.73 M599.73 136.73L610.62 136.73 M592.48 146.91L592.48 133.66 M605.18 136.73L605.18 133.66 M592.48 133.66L605.18 133.66 M585.22 137.21L585.22 131 M598.83 133.66L598.83 131 M585.22 131L598.83 131 M575.55 135.3L575.55 126.49 M592.02 131L592.02 126.49 M575.55 126.49L592.02 126.49 M554.99 128.88L554.99 122.4 M583.79 126.49L583.79 122.4 M554.99 122.4L583.79 122.4 M536.85 130.66L536.85 118.98 M569.39 122.4L569.39 118.98 M536.85 118.98L569.39 118.98 M469.44 129.36L469.44 110.72 M553.12 118.98L553.12 110.72 M469.44 110.72L553.12 110.72 M421.37 121.65L421.37 101.78 M511.28 110.72L511.28 101.78 M421.37 101.78L511.28 101.78 M300.86 107.51L300.86 83.48 M466.32 101.78L466.32 83.48 M300.86 83.48L466.32 83.48 M162.59 59.25L162.59 5.3 M383.59 83.48L383.59 5.3 M162.59 5.3L383.59 5.3" stroke="#333" stroke-width="1.45" fill="none" stroke-linecap="square"/>
<ellipse cx="301.6" cy="4.7" rx="1.4" ry="0.9" fill="#222"/><ellipse cx="350.5" cy="4.7" rx="1.4" ry="0.9" fill="#222"/>
<path d="M17.77 874.4L17.77 809.5 M24.71 874.4L24.71 809.5 M17.77 809.5L24.71 809.5 M38.6 874.4L38.6 834.8 M45.54 874.4L45.54 834.8 M38.6 834.8L45.54 834.8 M31.66 874.4L31.66 813 M42.07 834.8L42.07 813 M31.66 813L42.07 813 M52.49 874.4L52.49 824.7 M59.43 874.4L59.43 824.7 M52.49 824.7L59.43 824.7 M66.37 874.4L66.37 843.2 M73.32 874.4L73.32 843.2 M66.37 843.2L73.32 843.2 M87.2 874.4L87.2 858.4 M94.14 874.4L94.14 858.4 M87.2 858.4L94.14 858.4 M80.26 874.4L80.26 848.5 M90.67 858.4L90.67 848.5 M80.26 848.5L90.67 848.5 M69.84 843.2L69.84 826.8 M85.47 848.5L85.47 826.8 M69.84 826.8L85.47 826.8 M55.96 824.7L55.96 799.7 M77.65 826.8L77.65 799.7 M55.96 799.7L77.65 799.7 M36.86 813L36.86 794 M66.81 799.7L66.81 794 M36.86 794L66.81 794 M101.09 874.4L101.09 840.4 M108.03 874.4L108.03 840.4 M101.09 840.4L108.03 840.4 M114.97 874.4L114.97 843.2 M121.92 874.4L121.92 843.2 M114.97 843.2L121.92 843.2 M135.8 874.4L135.8 855.6 M142.75 874.4L142.75 855.6 M135.8 855.6L142.75 855.6 M128.86 874.4L128.86 853.5 M139.27 855.6L139.27 853.5 M128.86 853.5L139.27 853.5 M149.69 874.4L149.69 853.5 M156.63 874.4L156.63 853.5 M149.69 853.5L156.63 853.5 M163.57 874.4L163.57 861.2 M170.52 874.4L170.52 861.2 M163.57 861.2L170.52 861.2 M177.46 874.4L177.46 856.5 M184.4 874.4L184.4 856.5 M177.46 856.5L184.4 856.5 M167.05 861.2L167.05 844.9 M180.93 856.5L180.93 844.9 M167.05 844.9L180.93 844.9 M153.16 853.5L153.16 837.6 M173.99 844.9L173.99 837.6 M153.16 837.6L173.99 837.6 M134.07 853.5L134.07 832.7 M163.57 837.6L163.57 832.7 M134.07 832.7L163.57 832.7 M118.44 843.2L118.44 826.8 M148.82 832.7L148.82 826.8 M118.44 826.8L148.82 826.8 M104.56 840.4L104.56 798.3 M133.63 826.8L133.63 798.3 M104.56 798.3L133.63 798.3 M51.84 794L51.84 747.4 M119.1 798.3L119.1 747.4 M51.84 747.4L119.1 747.4 M21.24 809.5L21.24 746 M85.47 747.4L85.47 746 M21.24 746L85.47 746 M198.29 874.4L198.29 862.6 M205.23 874.4L205.23 862.6 M198.29 862.6L205.23 862.6 M191.35 874.4L191.35 858.4 M201.76 862.6L201.76 858.4 M191.35 858.4L201.76 858.4 M226.06 874.4L226.06 868.2 M233 874.4L233 868.2 M226.06 868.2L233 868.2 M219.12 874.4L219.12 859.2 M229.53 868.2L229.53 859.2 M219.12 859.2L229.53 859.2 M212.18 874.4L212.18 854.7 M224.33 859.2L224.33 854.7 M212.18 854.7L224.33 854.7 M196.55 858.4L196.55 850 M218.25 854.7L218.25 850 M196.55 850L218.25 850 M246.89 874.4L246.89 852.8 M253.83 874.4L253.83 852.8 M246.89 852.8L253.83 852.8 M239.95 874.4L239.95 845.7 M250.36 852.8L250.36 845.7 M239.95 845.7L250.36 845.7 M260.78 874.4L260.78 856.7 M267.72 874.4L267.72 856.7 M260.78 856.7L267.72 856.7 M281.61 874.4L281.61 866.8 M288.55 874.4L288.55 866.8 M281.61 866.8L288.55 866.8 M274.66 874.4L274.66 857.5 M285.08 866.8L285.08 857.5 M274.66 857.5L285.08 857.5 M264.25 856.7L264.25 850.5 M279.87 857.5L279.87 850.5 M264.25 850.5L279.87 850.5 M245.15 845.7L245.15 836.5 M272.06 850.5L272.06 836.5 M245.15 836.5L272.06 836.5 M295.49 874.4L295.49 859.2 M302.43 874.4L302.43 859.2 M295.49 859.2L302.43 859.2 M323.26 874.4L323.26 865.1 M330.21 874.4L330.21 865.1 M323.26 865.1L330.21 865.1 M316.32 874.4L316.32 862.1 M326.74 865.1L326.74 862.1 M316.32 862.1L326.74 862.1 M309.38 874.4L309.38 857.9 M321.53 862.1L321.53 857.9 M309.38 857.9L321.53 857.9 M298.96 859.2L298.96 852.8 M315.45 857.9L315.45 852.8 M298.96 852.8L315.45 852.8 M351.04 874.4L351.04 871 M357.98 874.4L357.98 871 M351.04 871L357.98 871 M344.09 874.4L344.09 860.9 M354.51 871L354.51 860.9 M344.09 860.9L354.51 860.9 M337.15 874.4L337.15 857.9 M349.3 860.9L349.3 857.9 M337.15 857.9L349.3 857.9 M364.92 874.4L364.92 862.1 M371.86 874.4L371.86 862.1 M364.92 862.1L371.86 862.1 M385.75 874.4L385.75 868.5 M392.69 874.4L392.69 868.5 M385.75 868.5L392.69 868.5 M399.64 874.4L399.64 866.8 M406.58 874.4L406.58 866.8 M399.64 866.8L406.58 866.8 M389.22 868.5L389.22 863.8 M403.11 866.8L403.11 863.8 M389.22 863.8L403.11 863.8 M378.81 874.4L378.81 863 M396.16 863.8L396.16 863 M378.81 863L396.16 863 M368.39 862.1L368.39 856.2 M387.49 863L387.49 856.2 M368.39 856.2L387.49 856.2 M343.22 857.9L343.22 846.2 M377.94 856.2L377.94 846.2 M343.22 846.2L377.94 846.2 M307.21 852.8L307.21 845.2 M360.58 846.2L360.58 845.2 M307.21 845.2L360.58 845.2 M258.61 836.5L258.61 829.2 M333.89 845.2L333.89 829.2 M258.61 829.2L333.89 829.2 M207.4 850L207.4 816.7 M296.25 829.2L296.25 816.7 M207.4 816.7L296.25 816.7 M413.52 874.4L413.52 858 M420.47 874.4L420.47 858 M413.52 858L420.47 858 M434.35 874.4L434.35 854.8 M441.29 874.4L441.29 854.8 M434.35 854.8L441.29 854.8 M427.41 874.4L427.41 845 M437.82 854.8L437.82 845 M427.41 845L437.82 845 M416.99 858L416.99 837.4 M432.62 845L432.62 837.4 M416.99 837.4L432.62 837.4 M455.18 874.4L455.18 870 M462.12 874.4L462.12 870 M455.18 870L462.12 870 M469.07 874.4L469.07 869.3 M476.01 874.4L476.01 869.3 M469.07 869.3L476.01 869.3 M482.95 874.4L482.95 866.8 M489.9 874.4L489.9 866.8 M482.95 866.8L489.9 866.8 M472.54 869.3L472.54 866.5 M486.42 866.8L486.42 866.5 M472.54 866.5L486.42 866.5 M458.65 870L458.65 863 M479.48 866.5L479.48 863 M458.65 863L479.48 863 M448.24 874.4L448.24 858.1 M469.07 863L469.07 858.1 M448.24 858.1L469.07 858.1 M496.84 874.4L496.84 868.1 M503.78 874.4L503.78 868.1 M496.84 868.1L503.78 868.1 M517.67 874.4L517.67 869.8 M524.61 874.4L524.61 869.8 M517.67 869.8L524.61 869.8 M510.72 874.4L510.72 864.8 M521.14 869.8L521.14 864.8 M510.72 864.8L521.14 864.8 M500.31 868.1L500.31 864.2 M515.93 864.8L515.93 864.2 M500.31 864.2L515.93 864.2 M538.5 874.4L538.5 862.5 M545.44 874.4L545.44 862.5 M538.5 862.5L545.44 862.5 M531.55 874.4L531.55 861.8 M541.97 862.5L541.97 861.8 M531.55 861.8L541.97 861.8 M552.38 874.4L552.38 869.5 M559.33 874.4L559.33 869.5 M552.38 869.5L559.33 869.5 M566.27 874.4L566.27 867.8 M573.21 874.4L573.21 867.8 M566.27 867.8L573.21 867.8 M555.85 869.5L555.85 861.8 M569.74 867.8L569.74 861.8 M555.85 861.8L569.74 861.8 M536.76 861.8L536.76 856.9 M562.8 861.8L562.8 856.9 M536.76 856.9L562.8 856.9 M508.12 864.2L508.12 849.7 M549.78 856.9L549.78 849.7 M508.12 849.7L549.78 849.7 M458.65 858.1L458.65 848.7 M528.95 849.7L528.95 848.7 M458.65 848.7L528.95 848.7 M580.15 874.4L580.15 860.4 M587.1 874.4L587.1 860.4 M580.15 860.4L587.1 860.4 M594.04 874.4L594.04 854 M600.98 874.4L600.98 854 M594.04 854L600.98 854 M583.63 860.4L583.63 850.6 M597.51 854L597.51 850.6 M583.63 850.6L597.51 850.6 M614.87 874.4L614.87 862.9 M621.81 874.4L621.81 862.9 M614.87 862.9L621.81 862.9 M628.76 874.4L628.76 863.7 M635.7 874.4L635.7 863.7 M628.76 863.7L635.7 863.7 M618.34 862.9L618.34 859 M632.23 863.7L632.23 859 M618.34 859L632.23 859 M607.93 874.4L607.93 848 M625.28 859L625.28 848 M607.93 848L625.28 848 M642.64 874.4L642.64 857.4 M649.58 874.4L649.58 857.4 M642.64 857.4L649.58 857.4 M656.53 874.4L656.53 860.2 M663.47 874.4L663.47 860.2 M656.53 860.2L663.47 860.2 M677.36 874.4L677.36 862.9 M684.3 874.4L684.3 862.9 M677.36 862.9L684.3 862.9 M698.19 874.4L698.19 866.1 M705.13 874.4L705.13 866.1 M698.19 866.1L705.13 866.1 M691.24 874.4L691.24 863.7 M701.66 866.1L701.66 863.7 M691.24 863.7L701.66 863.7 M680.83 862.9L680.83 859.5 M696.45 863.7L696.45 859.5 M680.83 859.5L696.45 859.5 M670.41 874.4L670.41 855 M688.64 859.5L688.64 855 M670.41 855L688.64 855 M660 860.2L660 851.1 M679.53 855L679.53 851.1 M660 851.1L679.53 851.1 M646.11 857.4L646.11 844.5 M669.76 851.1L669.76 844.5 M646.11 844.5L669.76 844.5 M616.61 848L616.61 838.5 M657.94 844.5L657.94 838.5 M616.61 838.5L657.94 838.5 M590.57 850.6L590.57 833.5 M637.27 838.5L637.27 833.5 M590.57 833.5L637.27 833.5 M493.8 848.7L493.8 821.4 M613.92 833.5L613.92 821.4 M493.8 821.4L613.92 821.4 M424.8 837.4L424.8 808.3 M553.86 821.4L553.86 808.3 M424.8 808.3L553.86 808.3 M251.83 816.7L251.83 781.5 M489.33 808.3L489.33 781.5 M251.83 781.5L489.33 781.5 M53.35 746L53.35 667.6 M370.58 781.5L370.58 667.6 M53.35 667.6L370.58 667.6" stroke="#000" stroke-width="2.3" fill="none" stroke-linecap="square"/>
<ellipse cx="252.3" cy="666.6" rx="1.5" ry="1.1" fill="#000"/><ellipse cx="323.1" cy="666.6" rx="1.5" ry="1.1" fill="#000"/>
<path d="M131 156.5L132.4 156.5 M131 170.5L132.4 170.5 M131 183.5L132.4 183.5 M131 196.5L132.4 196.5 M131 210.5L132.4 210.5 M131 223.5L132.4 223.5 M131 237.5L132.4 237.5 M128.6 250.5L132.4 250.5 M128.6 263.5L132.4 263.5 M128.6 277.5L132.4 277.5 M127.6 290.5L132.4 290.5 M127.6 304.5L132.4 304.5 M127.6 317.5L132.4 317.5 M127.6 331.5L132.4 331.5 M130.5 344.5L132.4 344.5 M130.5 357.5L132.4 357.5 M126 371.5L132.4 371.5 M128.3 384.5L132.4 384.5 M128.3 398.5L132.4 398.5 M126.9 411.5L132.4 411.5 M128.9 424.5L132.4 424.5 M128.9 438.5L132.4 438.5 M128.9 451.5L132.4 451.5 M128.9 465.5L132.4 465.5 M128.9 478.5L132.4 478.5 M129.4 491.5L132.4 491.5 M129.4 505.5L132.4 505.5 M128.8 518.5L132.4 518.5 M128.2 532.5L132.4 532.5 M127.1 545.5L132.4 545.5 M130 559.5L132.4 559.5 M130 572.5L132.4 572.5 M78.7 585.5L132.4 585.5 M96.2 599.5L132.4 599.5 M96.2 612.5L132.4 612.5 M82.6 626.5L132.4 626.5 M131.5 156.71L131.5 245 M127.3 245.5L131 245.5 M128.5 245L128.5 290.81 M127.5 245L127.5 330 M127.5 288L127.5 330 M128.5 288L128.5 330 M129.5 288L129.5 330 M130.5 288L130.5 330 M124.9 330.5L130.9 330.5 M125.5 330L125.5 366 M126.5 330L126.5 366 M127.5 330L127.5 351 M130.5 344.44L130.5 357.86 M127.8 351.5L130.5 351.5 M124.1 366.5L127 366.5 M124.5 366L124.5 457.3 M125.5 390L125.5 411.5 M126.5 371.26L126.5 395 M126 395.5L128.3 395.5 M128.5 384.68L128.5 398.09 M126.5 398L126.5 411.5 M120.9 411.5L125.3 411.5 M128.5 424.91L128.5 478.55 M124.3 457.5L128.9 457.5 M120.5 411.5L120.5 549.8 M78.7 480.5L120.9 480.5 M129.5 491.95L129.5 505.37 M128.5 499L128.5 518.77 M128.5 509L128.5 532.18 M127.5 521L127.5 545.6 M128.8 499.5L129.4 499.5 M128.2 509.5L128.8 509.5 M127.1 521.5L128.2 521.5 M124.5 533.5L127.1 533.5 M130.5 559L130.5 572.41 M124.5 566.5L130 566.5 M124.5 533.6L124.5 566.3 M120.9 549.5L124.5 549.5 M78.5 480.3L78.5 585.83 M3.9 533.5L78.7 533.5 M96.5 599.24L96.5 612.64 M82.6 606.5L96.2 606.5 M82.5 606.3L82.5 626.06 M3.9 616.5L82.6 616.5 M3.5 533.4L3.5 616.4" stroke="#2a2a2a" stroke-width="1" fill="none"/>
<path d="M131.5 173v11M131.5 228v10" stroke="#111" stroke-width="1.3"/>
<path d="M127 288h4v42h-4zM128.3 440h1.6v12h-1.6z" fill="#111"/>
<g font-size="9.7" fill="#353535" stroke="#353535" stroke-width="0.32">
<text x="629.5" y="160.31">IL -10</text>
<text x="629.5" y="173.72">IL-32alpha</text>
<text x="629.5" y="187.12">IL-1alpha</text>
<text x="629.5" y="200.53">IL-27</text>
<text x="629.5" y="213.94">IL-23</text>
<text x="629.5" y="227.35">MIP-1alpha</text>
<text x="629.5" y="240.77">I-TAC</text>
<text x="629.5" y="254.17">INF-gamma</text>
<text x="629.5" y="267.59">IL-5</text>
<text x="629.5" y="281">IL-8</text>
<text x="629.5" y="294.41">IL-6</text>
<text x="629.5" y="307.82">IL-1beta</text>
<text x="629.5" y="321.23">MCP-1</text>
<text x="629.5" y="334.63">IL-4</text>
<text x="629.5" y="348.05">IL-12p70</text>
<text x="629.5" y="361.46">IL-17</text>
<text x="629.5" y="374.87">MIP-1beta</text>
<text x="629.5" y="388.28">C5a</text>
<text x="629.5" y="401.69">SDF-1</text>
<text x="629.5" y="415.1">CD40 Ligand</text>
<text x="629.5" y="428.51">GM-CSF</text>
<text x="629.5" y="441.92">Strem-1</text>
<text x="629.5" y="455.33">TNF-alpha</text>
<text x="629.5" y="468.74">IP-10</text>
<text x="629.5" y="482.15">IL-2</text>
<text x="629.5" y="495.56">I309-CCL1</text>
<text x="629.5" y="508.97">IL-17E</text>
<text x="629.5" y="522.38">G-CSF</text>
<text x="629.5" y="535.78">IL-13</text>
<text x="629.5" y="549.2">GRO-alpha</text>
<text x="629.5" y="562.61">IL-1ra</text>
<text x="629.5" y="576.01">IL-16</text>
<text x="629.5" y="589.43">MIF</text>
<text x="629.5" y="602.84">Sicam-1</text>
<text x="629.5" y="616.25">SerpinE1</text>
<text x="629.5" y="629.66">RANTES</text>
</g>
<g shape-rendering="crispEdges">
<rect x="14" y="882.2" width="7.14" height="30.6" fill="#fff200"/>
<rect x="20.94" y="882.2" width="7.14" height="30.6" fill="#ff4a00"/>
<rect x="27.88" y="882.2" width="7.14" height="30.6" fill="#fff200"/>
<rect x="34.83" y="882.2" width="7.14" height="30.6" fill="#ff4a00"/>
<rect x="41.77" y="882.2" width="7.14" height="30.6" fill="#fff200"/>
<rect x="48.71" y="882.2" width="7.14" height="30.6" fill="#ff4a00"/>
<rect x="55.65" y="882.2" width="14.08" height="30.6" fill="#fff200"/>
<rect x="69.54" y="882.2" width="7.14" height="30.6" fill="#ff4a00"/>
<rect x="76.48" y="882.2" width="7.14" height="30.6" fill="#fff200"/>
<rect x="83.42" y="882.2" width="7.14" height="30.6" fill="#ff4a00"/>
<rect x="90.36" y="882.2" width="7.14" height="30.6" fill="#fff200"/>
<rect x="97.3" y="882.2" width="14.08" height="30.6" fill="#ff4a00"/>
<rect x="111.19" y="882.2" width="7.14" height="30.6" fill="#fff200"/>
<rect x="118.13" y="882.2" width="7.14" height="30.6" fill="#ff4a00"/>
<rect x="125.07" y="882.2" width="7.14" height="30.6" fill="#fff200"/>
<rect x="132.01" y="882.2" width="7.14" height="30.6" fill="#ff4a00"/>
<rect x="138.96" y="882.2" width="7.14" height="30.6" fill="#fff200"/>
<rect x="145.9" y="882.2" width="41.85" height="30.6" fill="#ff4a00"/>
<rect x="187.55" y="882.2" width="14.08" height="30.6" fill="#fff200"/>
<rect x="201.43" y="882.2" width="21.03" height="30.6" fill="#ff4a00"/>
<rect x="222.26" y="882.2" width="14.08" height="30.6" fill="#fff200"/>
<rect x="236.14" y="882.2" width="7.14" height="30.6" fill="#ff4a00"/>
<rect x="243.09" y="882.2" width="21.03" height="30.6" fill="#fff200"/>
<rect x="263.91" y="882.2" width="7.14" height="30.6" fill="#ff4a00"/>
<rect x="270.85" y="882.2" width="27.97" height="30.6" fill="#fff200"/>
<rect x="298.62" y="882.2" width="7.14" height="30.6" fill="#ff4a00"/>
<rect x="305.56" y="882.2" width="34.91" height="30.6" fill="#fff200"/>
<rect x="340.27" y="882.2" width="7.14" height="30.6" fill="#ff4a00"/>
<rect x="347.22" y="882.2" width="7.14" height="30.6" fill="#fff200"/>
<rect x="354.16" y="882.2" width="21.03" height="30.6" fill="#ff4a00"/>
<rect x="374.98" y="882.2" width="7.14" height="30.6" fill="#fff200"/>
<rect x="381.93" y="882.2" width="14.08" height="30.6" fill="#ff4a00"/>
<rect x="395.81" y="882.2" width="7.14" height="30.6" fill="#fff200"/>
<rect x="402.75" y="882.2" width="7.14" height="30.6" fill="#ff4a00"/>
<rect x="409.69" y="882.2" width="7.14" height="30.6" fill="#fff200"/>
<rect x="416.64" y="882.2" width="27.97" height="30.6" fill="#ff4a00"/>
<rect x="444.4" y="882.2" width="27.97" height="30.6" fill="#fff200"/>
<rect x="472.17" y="882.2" width="7.14" height="30.6" fill="#ff4a00"/>
<rect x="479.11" y="882.2" width="21.03" height="30.6" fill="#fff200"/>
<rect x="499.94" y="882.2" width="7.14" height="30.6" fill="#ff4a00"/>
<rect x="506.88" y="882.2" width="27.97" height="30.6" fill="#fff200"/>
<rect x="534.65" y="882.2" width="7.14" height="30.6" fill="#ff4a00"/>
<rect x="541.59" y="882.2" width="7.14" height="30.6" fill="#fff200"/>
<rect x="548.53" y="882.2" width="7.14" height="30.6" fill="#ff4a00"/>
<rect x="555.48" y="882.2" width="14.08" height="30.6" fill="#fff200"/>
<rect x="569.36" y="882.2" width="7.14" height="30.6" fill="#ff4a00"/>
<rect x="576.3" y="882.2" width="7.14" height="30.6" fill="#fff200"/>
<rect x="583.24" y="882.2" width="21.03" height="30.6" fill="#ff4a00"/>
<rect x="604.07" y="882.2" width="7.14" height="30.6" fill="#fff200"/>
<rect x="611.01" y="882.2" width="41.85" height="30.6" fill="#ff4a00"/>
<rect x="652.66" y="882.2" width="27.97" height="30.6" fill="#fff200"/>
<rect x="680.43" y="882.2" width="7.14" height="30.6" fill="#ff4a00"/>
<rect x="687.37" y="882.2" width="7.14" height="30.6" fill="#fff200"/>
<rect x="694.32" y="882.2" width="7.14" height="30.6" fill="#ff4a00"/>
<rect x="701.26" y="882.2" width="7.14" height="30.6" fill="#fff200"/>
<rect x="14" y="921.6" width="14.08" height="30.5" fill="#ffb8c6"/>
<rect x="27.88" y="921.6" width="7.14" height="30.5" fill="#00f4ff"/>
<rect x="34.83" y="921.6" width="14.08" height="30.5" fill="#ffb8c6"/>
<rect x="48.71" y="921.6" width="48.79" height="30.5" fill="#00f4ff"/>
<rect x="97.3" y="921.6" width="7.14" height="30.5" fill="#ffb8c6"/>
<rect x="104.25" y="921.6" width="34.91" height="30.5" fill="#00f4ff"/>
<rect x="138.96" y="921.6" width="7.14" height="30.5" fill="#ffb8c6"/>
<rect x="145.9" y="921.6" width="7.14" height="30.5" fill="#00f4ff"/>
<rect x="152.84" y="921.6" width="7.14" height="30.5" fill="#ffb8c6"/>
<rect x="159.78" y="921.6" width="14.08" height="30.5" fill="#00f4ff"/>
<rect x="173.67" y="921.6" width="41.85" height="30.5" fill="#ffb8c6"/>
<rect x="215.32" y="921.6" width="27.97" height="30.5" fill="#00f4ff"/>
<rect x="243.09" y="921.6" width="7.14" height="30.5" fill="#ffb8c6"/>
<rect x="250.03" y="921.6" width="7.14" height="30.5" fill="#00f4ff"/>
<rect x="256.97" y="921.6" width="7.14" height="30.5" fill="#ffb8c6"/>
<rect x="263.91" y="921.6" width="7.14" height="30.5" fill="#00f4ff"/>
<rect x="270.85" y="921.6" width="7.14" height="30.5" fill="#ffb8c6"/>
<rect x="277.8" y="921.6" width="21.03" height="30.5" fill="#00f4ff"/>
<rect x="298.62" y="921.6" width="21.03" height="30.5" fill="#ffb8c6"/>
<rect x="319.45" y="921.6" width="7.14" height="30.5" fill="#00f4ff"/>
<rect x="326.39" y="921.6" width="14.08" height="30.5" fill="#ffb8c6"/>
<rect x="340.27" y="921.6" width="21.03" height="30.5" fill="#00f4ff"/>
<rect x="361.1" y="921.6" width="41.85" height="30.5" fill="#ffb8c6"/>
<rect x="402.75" y="921.6" width="34.91" height="30.5" fill="#00f4ff"/>
<rect x="437.46" y="921.6" width="7.14" height="30.5" fill="#ffb8c6"/>
<rect x="444.4" y="921.6" width="21.03" height="30.5" fill="#00f4ff"/>
<rect x="465.23" y="921.6" width="7.14" height="30.5" fill="#ffb8c6"/>
<rect x="472.17" y="921.6" width="7.14" height="30.5" fill="#00f4ff"/>
<rect x="479.11" y="921.6" width="14.08" height="30.5" fill="#ffb8c6"/>
<rect x="493" y="921.6" width="27.97" height="30.5" fill="#00f4ff"/>
<rect x="520.77" y="921.6" width="7.14" height="30.5" fill="#ffb8c6"/>
<rect x="527.71" y="921.6" width="7.14" height="30.5" fill="#00f4ff"/>
<rect x="534.65" y="921.6" width="14.08" height="30.5" fill="#ffb8c6"/>
<rect x="548.53" y="921.6" width="14.08" height="30.5" fill="#00f4ff"/>
<rect x="562.42" y="921.6" width="7.14" height="30.5" fill="#ffb8c6"/>
<rect x="569.36" y="921.6" width="14.08" height="30.5" fill="#00f4ff"/>
<rect x="583.24" y="921.6" width="14.08" height="30.5" fill="#ffb8c6"/>
<rect x="597.13" y="921.6" width="21.03" height="30.5" fill="#00f4ff"/>
<rect x="617.95" y="921.6" width="7.14" height="30.5" fill="#ffb8c6"/>
<rect x="624.9" y="921.6" width="21.03" height="30.5" fill="#00f4ff"/>
<rect x="645.72" y="921.6" width="7.14" height="30.5" fill="#ffb8c6"/>
<rect x="652.66" y="921.6" width="14.08" height="30.5" fill="#00f4ff"/>
<rect x="666.55" y="921.6" width="7.14" height="30.5" fill="#ffb8c6"/>
<rect x="673.49" y="921.6" width="7.14" height="30.5" fill="#00f4ff"/>
<rect x="680.43" y="921.6" width="7.14" height="30.5" fill="#ffb8c6"/>
<rect x="687.37" y="921.6" width="14.08" height="30.5" fill="#00f4ff"/>
<rect x="701.26" y="921.6" width="7.14" height="30.5" fill="#ffb8c6"/>
<rect x="14" y="958.8" width="14.08" height="31" fill="#7b0f0b"/>
<rect x="27.88" y="958.8" width="21.03" height="31" fill="#156a88"/>
<rect x="48.71" y="958.8" width="21.03" height="31" fill="#7b0f0b"/>
<rect x="69.54" y="958.8" width="21.03" height="31" fill="#156a88"/>
<rect x="90.36" y="958.8" width="21.03" height="31" fill="#7b0f0b"/>
<rect x="111.19" y="958.8" width="7.14" height="31" fill="#156a88"/>
<rect x="118.13" y="958.8" width="14.08" height="31" fill="#7b0f0b"/>
<rect x="132.01" y="958.8" width="7.14" height="31" fill="#156a88"/>
<rect x="138.96" y="958.8" width="55.74" height="31" fill="#7b0f0b"/>
<rect x="194.49" y="958.8" width="27.97" height="31" fill="#156a88"/>
<rect x="222.26" y="958.8" width="14.08" height="31" fill="#7b0f0b"/>
<rect x="236.14" y="958.8" width="7.14" height="31" fill="#156a88"/>
<rect x="243.09" y="958.8" width="27.97" height="31" fill="#7b0f0b"/>
<rect x="270.85" y="958.8" width="7.14" height="31" fill="#156a88"/>
<rect x="277.8" y="958.8" width="7.14" height="31" fill="#7b0f0b"/>
<rect x="284.74" y="958.8" width="41.85" height="31" fill="#156a88"/>
<rect x="326.39" y="958.8" width="14.08" height="31" fill="#7b0f0b"/>
<rect x="340.27" y="958.8" width="27.97" height="31" fill="#156a88"/>
<rect x="368.04" y="958.8" width="14.08" height="31" fill="#7b0f0b"/>
<rect x="381.93" y="958.8" width="48.79" height="31" fill="#156a88"/>
<rect x="430.52" y="958.8" width="14.08" height="31" fill="#7b0f0b"/>
<rect x="444.4" y="958.8" width="7.14" height="31" fill="#156a88"/>
<rect x="451.35" y="958.8" width="14.08" height="31" fill="#7b0f0b"/>
<rect x="465.23" y="958.8" width="14.08" height="31" fill="#156a88"/>
<rect x="479.11" y="958.8" width="14.08" height="31" fill="#7b0f0b"/>
<rect x="493" y="958.8" width="14.08" height="31" fill="#156a88"/>
<rect x="506.88" y="958.8" width="7.14" height="31" fill="#7b0f0b"/>
<rect x="513.82" y="958.8" width="14.08" height="31" fill="#156a88"/>
<rect x="527.71" y="958.8" width="7.14" height="31" fill="#7b0f0b"/>
<rect x="534.65" y="958.8" width="7.14" height="31" fill="#156a88"/>
<rect x="541.59" y="958.8" width="7.14" height="31" fill="#7b0f0b"/>
<rect x="548.53" y="958.8" width="48.79" height="31" fill="#156a88"/>
<rect x="597.13" y="958.8" width="7.14" height="31" fill="#7b0f0b"/>
<rect x="604.07" y="958.8" width="7.14" height="31" fill="#156a88"/>
<rect x="611.01" y="958.8" width="41.85" height="31" fill="#7b0f0b"/>
<rect x="652.66" y="958.8" width="7.14" height="31" fill="#156a88"/>
<rect x="659.61" y="958.8" width="7.14" height="31" fill="#7b0f0b"/>
<rect x="666.55" y="958.8" width="7.14" height="31" fill="#156a88"/>
<rect x="673.49" y="958.8" width="7.14" height="31" fill="#7b0f0b"/>
<rect x="680.43" y="958.8" width="7.14" height="31" fill="#156a88"/>
<rect x="687.37" y="958.8" width="7.14" height="31" fill="#7b0f0b"/>
<rect x="694.32" y="958.8" width="14.08" height="31" fill="#156a88"/>
</g>
<g font-size="17" fill="#111">
<text x="0.6" y="905">b</text><text x="1" y="942.6">c</text><text x="0.6" y="979">d</text>
</g>
</svg></body></html>
